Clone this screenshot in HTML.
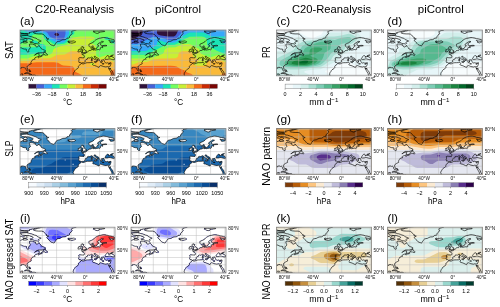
<!DOCTYPE html><html><head><meta charset="utf-8"><style>html,body{margin:0;padding:0;background:#fff;width:500px;height:307px;overflow:hidden}svg{display:block}text{font-family:"Liberation Sans",sans-serif;fill:#000}</style></head><body>
<svg width="500" height="307" viewBox="0 0 500 307" style="will-change:transform">
<defs><clipPath id="cp"><rect x="0" y="0" width="95.0" height="45.8"/></clipPath>
<path id="coast" d="M-6.3 52.3L-6.3 46.1L-0.4 46L0.3 45.5L0.6 44.4L1.2 44L2.6 43.9L3 44L2.6 45L2.4 45.9L2.1 46.8L2.1 48L5.1 48L5.7 48.6L5.9 52.3ZM-6.3 38L-2 37.9L-0.6 37.9L0.1 38.2L0.8 38.3L1.4 38.2L1.3 37.5L1.9 37.4L2.6 37.4L3.7 37.4L4.2 37.9L5 37.6L5.7 38.2L6.1 39.2L6.1 39.8L6.7 40.6L7.2 41.2L7.7 41.1L7.9 40.2L7.6 39L7.1 37.6L7 36.9L7.4 36L8.4 35.3L9.1 34.8L9.9 34.4L10.6 34.1L11.2 33.8L11.1 33L10.9 32.5L11.3 31.8L11.6 31.2L12 30.8L12.3 30.2L12.4 29.9L13.4 29.6L14.1 29.3L14.8 29.1L15.2 29.1L14.7 28.7L14.6 28.2L15 27.7L15.9 27.3L16.7 27L17.3 26.8L18 26.5L18.7 26.2L19.2 26L19 26.4L18.4 26.9L18 27.2L18.2 27.6L18.6 27.8L19.3 27.2L19.8 26.9L20.9 26.7L21.6 26.4L22.3 26L22.5 25.8L22 25.2L21.3 25.5L21.2 26.1L20.3 26.1L19.5 25.8L18.9 25.3L18.9 24.6L19.2 24.1L19.3 23.8L18.4 23.6L17.3 23.6L16.2 24.2L15.3 24.8L14.4 25.3L15.2 24.5L15.7 24.2L16.6 23.5L17.3 23.3L18 22.8L19.5 22.8L20.9 22.8L22.3 22.8L23.4 22.3L24.3 21.9L25.3 21.3L25.4 20.6L24.5 20.1L23.2 19.6L22.3 19.2L21.2 18.6L21 17.9L20.3 17.3L19.8 16.8L19.2 16L19 15.4L18.4 16.2L17.7 16.7L16.8 17L15.9 16.5L15.3 15.8L15.5 14.9L14.1 14.7L12.7 14.1L11.2 14L9.7 14L9.4 14.9L9.7 16L10 16.9L10.5 17.7L10.1 18.4L8.9 19.3L8.6 20.1L8.9 21.2L8.7 21.9L7.7 22L6.9 21.4L6.4 20.8L6.4 19.3L5.5 19.1L4.3 19.1L2.6 18.6L1.7 18L0.5 17.7L-0.9 17.8L-2.2 16.5L-6.3 16.4ZM-6.3 14.9L-2.4 15.7L-1.7 14.9L-0.9 14L0.1 13.6L0.8 12.9L2.3 12.6L2.8 12.1L3.3 11.3L4.1 10.9L5.1 11L6.2 11L6.9 10.2L7.1 9.4L6.2 8.6L5.5 8.5L4.4 8.8L4.1 9.4L3 10.2L2.3 9.6L1.6 9.2L0.5 9.4L0.1 8.7L-0.9 8.3L-0.6 7.7L-1.7 7.2L-2.7 7L-6.3 6.9ZM3.3 12.9L4.8 12.9L5.9 12.9L7.3 12.5L7.6 12.2L6.9 11.8L5.1 11.3L3.8 11.4L3 11.8L3.3 12.4ZM18.5 14.1L17.7 13.9L16.2 13.6L14.4 13.5L13.6 12.9L12.3 12.4L10.5 12.5L9.8 11.8L11.9 11.6L12.7 10.9L13.2 10.1L12.3 9.6L10.9 9.1L9.4 8.5L8 8.3L6.2 8.3L4.1 8.1L2.6 8L1.3 7.2L0.8 6.5L1.9 5.8L4.1 5.6L6.6 5.5L8 5.7L9.8 6.4L11.2 6.6L13 7.2L14.4 7.8L15.9 8.2L16.9 8.7L17.7 9.6L19.5 10.2L20.5 10.7L21.2 11L20.5 11.4L19.1 11.8L18.4 12.3L18.7 13L19.1 13.5ZM0.6 6.4L0.5 5.5L-2.7 5.4L-2.7 6.9ZM8 5L5.1 5L2.3 5L-0.6 4.8L-3.5 4.3L-1.3 3.7L0.8 3.5L4.4 3.6L7.3 3.8L8 4.3ZM8.4 3.4L9.8 3.2L9.1 2.6L10.9 2.2L12.3 1.8L13.7 1.6L15.2 1L17.3 0.6L19.1 0.1L20.9 -0.3L20.9 -0.8L15.2 -1.2L8 -1.2L-0.6 -0.1L-3.5 1L-0.6 2.1L1.6 3.2L4.4 3.6L8 3.6ZM33.9 15.8L32.7 15.4L31.6 15.1L30.6 14.6L29.6 13.6L29.1 12.7L28.2 12.1L27.7 11.4L27 10.9L26.8 10.2L27.3 9.4L28.8 8.9L27.7 8.6L26.3 8.2L27 7.7L25.9 7.2L25.3 6.5L24.8 5.8L24.1 5L23.2 4.3L21.6 3.9L18.7 3.9L16.2 3.7L14.1 3.2L13.4 2.6L14.1 2.2L15.5 1.9L17.7 1.1L19.5 0.8L20.9 0.3L23.8 -0.2L26.6 -0.6L33.1 -0.8L36.6 -1.4L42.4 -1.6L47.4 -1.4L51 -0.8L53.8 -0.3L56.3 -0.1L53.8 0.6L52 1.1L51.3 2L52 2.8L52.2 3.6L51.3 4.3L51 5L49.9 5.8L49.5 6.5L49.5 7.5L48.8 8L47 8.2L46.3 9.1L45.2 9.6L42.7 9.8L41.3 10.4L39.9 11.2L38.4 11.4L37 11.8L36.3 12.4L35.9 13.2L35.2 14L34.8 14.9L34.5 15.4ZM47.7 11.6L48.2 11.2L49.2 11L49.9 11.4L50.6 11.2L52 11.2L53.5 10.9L54.5 11L54.9 11.4L55.6 11.9L54.7 12.5L53.5 12.8L51.9 13.2L50.6 12.9L49 12.9L49.5 12.4L48.2 12.1L49.2 11.9L48.1 11.8ZM57.8 21.7L58.5 21.9L59.6 21.7L60.6 21.5L61 20.8L60.8 20.1L61.3 19.6L60.8 19.2L59.9 19.1L59.2 19.4L59.3 19.8L58.1 19.9L58.3 20.4L58.5 20.8L58.2 21.2ZM61.2 22.9L62.1 22.8L62.8 22.6L63.8 22.6L64.9 22.4L66.2 22.2L66.3 21.9L65.9 21.7L66.5 21.2L66.4 20.9L65.5 20.7L65.4 20.4L64.9 19.8L64.3 19.5L64.1 18.9L63.7 18.6L63.4 18.4L64 17.5L62.8 17.3L63 16.7L62.1 16.7L61.7 16.7L61.3 17.2L61.1 17.8L61.2 18.3L61.3 19L61.8 19.4L62.8 19.4L63 19.8L63.1 20.2L63 20.6L62.1 20.6L62.3 20.9L62.3 21.3L61.6 21.7L62.2 21.8L63 22L62.3 22.1L61.6 22.6ZM22.7 24.7L23.8 24.7L25 24.7L25.5 25.3L26.4 24.9L26.9 25.4L27.5 25L27.2 24.2L26.8 23.8L25.8 23.4L25.3 22.8L25.5 21.9L24.6 22L24.1 22.6L23.4 23.6L23 24.1ZM4.4 43.6L5.1 43.2L6.2 42.7L8 42.7L9.4 43.3L10.1 43.8L11.2 44.4L12.2 44.8L11.2 45.1L9.8 45.1L10 44.5L9.1 43.9L7.6 43.6L6.6 43.4L5.1 43.6ZM11.9 46.2L13.2 45.1L14.4 45.1L15.2 45.2L16.3 46L15.2 46.3L14.1 46.6L13.2 46.4L12 46.4ZM9.2 46.2L10.1 46.1L10.7 46.3L10.3 46.5L9.6 46.5ZM17.2 46.1L18.3 46.2L18.2 46.4L17.2 46.4ZM8.7 40L9.6 39.9L10 40.2L9.3 40.3ZM9.3 41.9L9.7 41.8L9.6 41.2L9.1 41.3ZM9.9 40.6L10.2 40.4L10.5 41.2L10.7 41.7L10.4 41.6ZM51 52.3L53 48.9L53.3 48.2L53.7 47.2L53.8 46.1L53.5 45.3L53.6 45L53.1 44.2L53.3 43.5L53.8 42.3L54.5 41.5L54.9 40.6L55.6 39.8L56.7 39.1L57.8 38.4L58.3 37.8L58.4 37.2L58.3 36.6L58.7 35.8L59.6 35L60.4 34.6L60.8 33.8L61.1 33.4L61.3 33.3L61 32.9L60.7 32.6L60.1 32.4L59 32.5L59 31.8L58.6 31.3L58.8 30.7L59 30L59 29L58.7 28.1L59.6 27.6L61 27.7L62.4 27.8L64 27.8L64.3 27.2L64.4 26.1L63.7 25.1L62.2 24.6L61.9 24.1L63.1 23.9L64.1 23.9L64 23.2L64.6 23.4L65.4 23.4L66.4 22.9L66.4 22.3L67.4 22L68 21.7L68.6 21.2L68.9 20.6L69.9 20.4L71 20.4L71.5 20.1L71.7 19.5L71.4 19L71.1 18.2L71.4 17.8L72.9 17.3L72.7 17.9L73.1 18.3L72.5 18.8L73.9 18.6L74.3 18.4L73.8 17.5L73.4 16.9L73.2 16.3L72.8 15.7L72.5 16.3L71.7 16.7L71 17.1L69.9 17.1L69.3 16.5L69.1 16L68.9 15.3L68.9 14.6L69.1 14L69.9 13.8L71 13.3L72.1 12.9L73 12.3L74 11.6L74.6 10.9L75.4 10.2L76.4 9.6L77.1 9.2L78.2 8.7L79.2 8.3L80.7 8.1L82.1 7.7L83.5 7.5L85 7.6L86.4 7.9L87.5 8.1L88.9 8.7L90.7 8.9L92.5 9.4L94.3 9.9L94.8 10.6L94.1 11.1L92.8 11.2L90.7 11L89.6 10.7L88.8 10.5L89.3 11L90.2 11.6L90 12.4L91.4 12.7L92.1 12.9L92.8 12.3L93.9 12.3L94.3 11.6L95.4 11L96.6 11.1L96.9 10.2L96.4 9.4L98.2 9.4L101.1 9.4L108.2 8.3L108.2 52.3ZM61.3 33.3L62.1 32.8L63.7 32.7L64.1 32.3L64.8 32.1L65.1 31.4L65.4 31.2L65.1 30.7L65.5 30L66 29.5L66.9 29.3L67.6 28.9L67.5 28.1L68.3 27.8L68.9 27.8L69.8 28L70.7 27.5L71.6 27.1L72.3 27.3L72.8 28.1L73.5 28.6L74.2 29.2L75.2 29.4L75.7 29.9L76.4 30.3L76.6 31.4L76.9 31.8L77.2 31.1L77.6 30.8L77.5 30L78.5 30.2L78.2 29.8L76.7 29.2L75.7 28.7L74.9 27.8L74.1 27L74.2 26.4L75.2 26.2L75.1 26.7L76 27.2L76.9 27.8L77.8 28.2L78.9 28.9L79.2 29.6L79.2 30.1L79.7 30.7L80.2 31.2L80.5 32L80.8 32.7L81.4 33L81.7 32.3L81.6 31.6L82.5 31.6L81.7 31.1L81.5 30.3L81.7 29.9L82.5 30L83.9 29.7L84 30.3L84.3 30.9L84.5 31.5L84.8 32.2L85.3 32.7L86.4 33.1L87.2 32.7L88.5 33.2L89.6 33L91 32.7L91 33.6L90.7 34.7L90.3 35.8L89.8 36.7L88.4 36.8L87.1 36.6L86 37L83.3 36.5L82.1 36L80.7 35.5L79.6 36.2L79 37.4L77.8 36.9L76.4 36.2L74.6 35.5L73.5 35.3L72.8 35L72.5 34.5L73.2 33.8L72.8 32.8L72.3 32.3L71 32.6L68.9 32.7L67.4 32.7L66 32.9L64.9 33.4L63.7 33.9L62.4 33.8L61.5 33.3ZM74.2 31.7L74.9 31.6L76.4 31.6L76.1 32.2L76.1 32.7L75.5 32.6L74.2 32.1ZM71.2 29.6L72.3 29.5L72.2 30.3L72.2 31L71.4 31.1L71.3 30.5L71.4 29.7ZM71.4 28.9L72 28.1L72.2 28.7L71.9 29.3L71.5 29.1ZM82.1 33.8L82.8 33.6L84.1 33.8L83.9 34L82.8 34ZM88.4 34L88.9 33.7L90.1 33.5L89.6 34L88.9 34.3L88.4 34.1ZM85.3 29.4L85 28.5L85.5 27.8L85.8 27.2L86.5 26.5L87.1 25.7L88 25.6L88.6 26L89.3 26.7L88.5 27L89.3 27.1L90.1 26.8L90.7 26.6L91.4 26.4L92.1 26.8L92.9 27.2L93.9 27.8L95 28.9L95.1 29.2L94.1 29.7L92.8 29.7L91.8 29.4L90.7 29.1L90 28.9L88.9 28.9L87.8 29.3L86.2 29.4ZM90.5 26.4L91.5 26.4L92.8 25.5L93.4 25L92.1 25.2L90.7 25.7ZM88.6 37.7L89.3 39L89.8 39.3L90.3 38L90.5 39.1L91.1 40L91.9 40.9L92.7 42L93.3 43.9L94.3 45.3L95.2 46.8L95.8 48.3L96.1 50.3L96.3 50.6L94.8 49.5L93.6 48.3L92.8 46.4L92 45.2L91.7 43.5L90.8 42.1L90 40.7L89.3 39.6ZM72.4 19.6L73.2 20.1L74.2 19.8L75.3 20.1L76.7 19.8L78.5 19.5L79.5 19.8L80.4 19.2L80.3 18.2L80.7 17.5L81.5 17.3L82.7 17.7L82.8 16.9L82.1 16.5L82.1 16.2L83.5 16L85.3 16L86.9 15.7L85.7 15.3L84.3 15.4L82.8 15.7L81.7 15.7L80.7 15.1L80.6 14.3L80.5 13.6L81.4 12.9L82.8 12.1L83.5 11.7L82.6 11.4L81.4 11.4L80.7 12L80.3 12.5L79.2 13.1L78.2 13.6L77.7 14.3L77.6 15.1L78.6 15.5L78.9 16L78.2 16.5L77.3 16.9L77.1 17.6L76.7 18.4L75.7 18.6L75.4 19L74.5 19L74.3 18.6L74.1 18.9L74.1 19.3L73.5 19.4L73.2 19.1L72.6 19.3ZM73.5 2.1L74.2 1.4L73.2 1.1L76.7 1L78.9 1.1L81 0.7L84.6 0.9L84.6 1.5L80.7 2L78.9 2.5L78.9 3L77.1 3.5L75.7 3L74.9 2.6L74.2 2.3Z"/>
<clipPath id="lc"><use href="#coast" clip-rule="evenodd"/></clipPath>
<path id="grid" d="M8 0V45.8M22.3 0V45.8M36.6 0V45.8M51 0V45.8M65.3 0V45.8M79.6 0V45.8M93.9 0V45.8M0 45H95.0M0 37.6H95.0M0 30.3H95.0M0 23H95.0M0 15.7H95.0M0 8.3H95.0M0 1H95.0" stroke="#b8b8b8" stroke-opacity="0.75" stroke-width="0.6" fill="none"/>
</defs>
<text x="35.1" y="13.3" font-size="10.3" textLength="79" lengthAdjust="spacingAndGlyphs">C20-Reanalysis</text>
<text x="292" y="13.3" font-size="10.3" textLength="79" lengthAdjust="spacingAndGlyphs">C20-Reanalysis</text>
<text x="155" y="13.3" font-size="10.3" textLength="46" lengthAdjust="spacingAndGlyphs">piControl</text>
<text x="417.8" y="13.3" font-size="10.3" textLength="46" lengthAdjust="spacingAndGlyphs">piControl</text>
<text transform="translate(12.7 59) rotate(-90)" x="0" y="0" font-size="10.3" textLength="17.9" lengthAdjust="spacingAndGlyphs">SAT</text>
<text transform="translate(12.7 156.8) rotate(-90)" x="0" y="0" font-size="10.3" textLength="16.3" lengthAdjust="spacingAndGlyphs">SLP</text>
<text transform="translate(12.7 299.7) rotate(-90)" x="0" y="0" font-size="10.3" textLength="80.9" lengthAdjust="spacingAndGlyphs">NAO regressed SAT</text>
<text transform="translate(269.5 58.1) rotate(-90)" x="0" y="0" font-size="10.3" textLength="11.8" lengthAdjust="spacingAndGlyphs">PR</text>
<text transform="translate(269.5 185.8) rotate(-90)" x="0" y="0" font-size="10.3" textLength="59" lengthAdjust="spacingAndGlyphs">NAO pattern</text>
<text transform="translate(269.5 299.5) rotate(-90)" x="0" y="0" font-size="10.3" textLength="75.8" lengthAdjust="spacingAndGlyphs">NAO regressed PR</text>
<g transform="translate(20 30)"><g clip-path="url(#cp)"><path d="M-1 -1h97v48h-97z" fill="#30123b" fill-rule="evenodd"/><path d="M-.9 47.2l97.7 0 0-49.1-70.3 0-1 .7-1.7 .5-5.1 .2-3.9-.2-2.4-1.2-13.7 0 0 49.1zM35.7 5.8l-1-.8-.4-.7 .8-1.1 2.3-.3 1.6 1 .1 1.1-.8 .8-1.3 .3z" fill="#4661d6" fill-rule="evenodd"/><path d="M-.9 47.2l97.7 0 0-49.1-51.2 0-.1 5.8-1.3 4.8-1.5 1.3-3.6 .1-2.8-.4-5.9-2.8-1.3-1.2-1.8-3-2.1-1.2-2.5-.4-9.7-.5-3.1-1.1-1.6-1.4-9.6 0 0 49.1z" fill="#37a8fa" fill-rule="evenodd"/><path d="M-.9 47.2l97.7 0 0-49.1-47.6 0-.3 5.8-1.9 3.2-1.8 4.1-2 1.2-5.5 .3-2.1-.4-7.2-3.7-1.4-1.4-1.6-2.9-2-1.4-2.5-.4-12.9-.2-2.9-1.3-1-1.3-.7-1.6-4.7 0 0 49.1z" fill="#1ae4b6" fill-rule="evenodd"/><path d="M-.9 47.2l97.7 0 0-32.9-2.5-.4-2.1-.8-1.2-1.1-.4-1.1 .1-.4 .7-.3 5.4 0 0-12.1-42.3 0-.2 5.5-.6 .7-3.1 1.6-1.4 1.3-1.7 4.1-.8 1.1-2.5 1.3-6.8 .9-1.8 0-2.2-.6-3.5-2.4-4.4-1.6-1.1-1.3-1.1-3.3-1.3-1-6.1-.2-2.9 .6-1.3 1.3-.2 3.7-.3 .3-4.3 .5-4.6 2.7-3.6 1 0 3.2 16.5-.2 1.7-.5 .9-.8 .9-2.2 3.6 .2 2.2 .7 1.1 1.3 .3 1.9-.1 3.6-1.4 1.5-2.4 .7-7.6 .1-7.5 1-8.2 0 0 22.4zM14.3 13.5l-1.8-1.1-.6-1.1 0-.9 2.5-.1 2.2 .5 1.5 1.2 .4 1.5-.5 .3zM86 9.8l-1.4-.7-.3-.8 .7-.9 1.4-.6 1.4 .2 1.2 .6 1.1 1.8-.1 .5-.7 .2z" fill="#71fe5f" fill-rule="evenodd"/><path d="M-.9 47.2l97.7 0 0-22.4-9.7 .1-6.4 2.2-1.5 .1-1.4-.4-1.1-.7-.5-.9-.2-7.7-.5-1.8-1.2-1.1-3.5-1.5-.8-1.1 .8-1.1 3.8-1.8 .3-.8-.7-1-2.8-.8-11.1 0-7.9 1-1.1 .4-.8 .8-.9 3.7-1.1 1.5-1.8 .9-5.5 1.2-6.4 2.2-1.4 1.4-.9 3-1.2 1.1-1.8 1-5.7 1-9 .2-7.5 2.5-8.6 .1 0 18.7z" fill="#c8ef34" fill-rule="evenodd"/><path d="M-.9 47.2l97.7 0 0-14.5-4-.9-3.9-2.5-1.8-.5-7.9 .7-7.5-.9-7.1-.4-1.5-.6-.9-.9-.8-3.3-1.5-1.5-2.5-.7-6.4 .1-2 .6-4.1 2.5-8.3 .7-4.6 2.5-2.2 .7-13.6 .3-7.8 2.4-9.7 .2 0 16zM71.9 35.5l-1.6-.8-.3-.7 .3-.7 2.1-.8 2.2 .8 .3 .7-.4 .7-1.3 .7z" fill="#faba39" fill-rule="evenodd"/><path d="M-.9 47.2l.3 0 63.5 0-.6-1.5-1.3-1.3-4.3-1.8-1.4-.9-.6-1.1-.5-2.6-1.4-1.4-2.2-.7-7.2-.3-1.7-.6-3.6-2.3-4-.5-17.5 0-8.2 1-9.7 0 0 14zM90.3 47.2l6.5 0 0-8.2-3.6 .7-2.1 1.3-.7 1.8z" fill="#f56918" fill-rule="evenodd"/><use href="#grid"/><use href="#coast" fill="none" stroke="#000" stroke-width="0.65" stroke-linejoin="round"/></g><rect x="0" y="0" width="95.0" height="45.8" fill="none" stroke="#8a8a8a" stroke-width="0.8"/><text x="8" y="51.4" font-size="4.5" textLength="11.5" lengthAdjust="spacingAndGlyphs" text-anchor="middle" style="fill:#111">80°W</text><text x="36.6" y="51.4" font-size="4.5" textLength="11.5" lengthAdjust="spacingAndGlyphs" text-anchor="middle" style="fill:#111">40°W</text><text x="65.3" y="51.4" font-size="4.5" textLength="4.7" lengthAdjust="spacingAndGlyphs" text-anchor="middle" style="fill:#111">0°</text><text x="93.9" y="51.4" font-size="4.5" textLength="10" lengthAdjust="spacingAndGlyphs" text-anchor="middle" style="fill:#111">40°E</text><text x="97.2" y="2.5" font-size="4.5" textLength="10.5" lengthAdjust="spacingAndGlyphs" style="fill:#111">80°N</text><text x="97.2" y="24.5" font-size="4.5" textLength="10.5" lengthAdjust="spacingAndGlyphs" style="fill:#111">50°N</text><text x="97.2" y="46.5" font-size="4.5" textLength="10.5" lengthAdjust="spacingAndGlyphs" style="fill:#111">20°N</text></g>
<text x="20.1" y="24.6" font-size="10.3" textLength="14.3" lengthAdjust="spacingAndGlyphs">(a)</text>
<g transform="translate(28.7 84.1)"><rect x="0" y="0" width="7.9" height="4.3" fill="#30123b"/><rect x="7.8" y="0" width="7.9" height="4.3" fill="#4661d6"/><rect x="15.5" y="0" width="7.9" height="4.3" fill="#37a8fa"/><rect x="23.3" y="0" width="7.9" height="4.3" fill="#1ae4b6"/><rect x="31" y="0" width="7.9" height="4.3" fill="#71fe5f"/><rect x="38.8" y="0" width="7.9" height="4.3" fill="#c8ef34"/><rect x="46.6" y="0" width="7.9" height="4.3" fill="#faba39"/><rect x="54.3" y="0" width="7.9" height="4.3" fill="#f56918"/><rect x="62.1" y="0" width="7.9" height="4.3" fill="#ca2a04"/><rect x="69.8" y="0" width="7.9" height="4.3" fill="#7a0403"/><rect x="0" y="0" width="77.6" height="4.3" fill="none" stroke="#666" stroke-width="0.4"/><path d="M7.8 4.3v1.3" stroke="#333" stroke-width="0.4"/><text x="7.8" y="11.9" font-size="5.4" text-anchor="middle">−36</text><path d="M23.3 4.3v1.3" stroke="#333" stroke-width="0.4"/><text x="23.3" y="11.9" font-size="5.4" text-anchor="middle">−18</text><path d="M38.8 4.3v1.3" stroke="#333" stroke-width="0.4"/><text x="38.8" y="11.9" font-size="5.4" text-anchor="middle">0</text><path d="M54.3 4.3v1.3" stroke="#333" stroke-width="0.4"/><text x="54.3" y="11.9" font-size="5.4" text-anchor="middle">18</text><path d="M69.8 4.3v1.3" stroke="#333" stroke-width="0.4"/><text x="69.8" y="11.9" font-size="5.4" text-anchor="middle">36</text><text x="38.8" y="21.1" font-size="8.8" textLength="9.2" lengthAdjust="spacingAndGlyphs" text-anchor="middle">°C</text></g>
<g transform="translate(131 30)"><g clip-path="url(#cp)"><path d="M-1 -1h97v48h-97z" fill="#30123b" fill-rule="evenodd"/><path d="M-.9 47.2l97.7 0 0-49.1-47.1 0-2.6 2.5-1.7 3.7-1.2 1.5-1.5 .6-2.8 .1-2.9-.1-7.2-1-2.5-.7-1.3-1.5-.1-5.1-14.3 0-.1 5.1-.7 1.8-1.4 1-3.5 1.3-3.3 2.2-3.9 1 0 36.7z" fill="#4661d6" fill-rule="evenodd"/><path d="M-.9 47.2l97.7 0 0-49.1-39.2 0-6.6 4.5-5.8 6.1-2.1 1.3-6.1 0-6.4-2.3-8.6-.9-1.8 .6-3.2 2.1-3.8 1.4-4.2 2.6-2.1 .3-8.2 .1 0 33.3z" fill="#37a8fa" fill-rule="evenodd"/><path d="M-.9 47.2l97.7 0 0-32.9-3.8-.8-1.2-.8-.3-.7 .3-.7 1.1-.8 3.9-.9 0-3.1-16.1-.1-2.2-.6-3.9-2.4-2.2-.8-13.6 0-1.8 .6-5.3 3-5.5 5.1-2.4 1.3-7.9 .1-2.5-.6-3.2-1.4-1.4-.1-1.5 .5-.9 .9-.8 2.9-1 1.1-9.1 4.8-2.1 .3-14.7 0 0 26.1z" fill="#1ae4b6" fill-rule="evenodd"/><path d="M-.9 47.2l97.7 0 0-23-4.3-.8-7.2-2.8-3.8-2.4-4.3-1.8-1.1-1.8-.4-5.5-.9-1.1-1.6-1-2.6-.5-12.1 .2-7.2 3.6-3.2 2.4-2.5 1.4-2.2 .6-6.8 .2-3.2 .6-17.2 9-2.5 .3-15 0 0 22.4z" fill="#71fe5f" fill-rule="evenodd"/><path d="M-.9 47.2l97.7 0 0-21.1-10-1.1-1.8 .4-4.3 1.7-2.9-.1-7.8-3.3-.8-1.1-.6-2.9-.8-1-4.4-1.9-3.4-2.2-2.6-.7-5.7 .1-7.2 3.3-6.8 .3-2.1 .6-2 1.5-.8 2.9-.9 1.1-8.2 3.3-9.3 1.4-15.7 .1 0 18.7z" fill="#c8ef34" fill-rule="evenodd"/><path d="M-.9 47.2l97.7 0 0-14.5-4-.9-4.2-2.6-2.6-.4-6.8 .9-2.1 .6-.9 1.1-.7 2.6-2.1 1.5-2.8 .3-5.7-.2-1.7-.9-.3-1.1 .9-.8 3.3-1.5 .6-.6 0-.7-.8-.8-3.1-1.2-1.3-1-1.6-4.4-1.3-.9-1.8-.5-6.8 .1-1.8 .6-1.1 .7-.6 1.1-.6 3-1 .9-1.4 .6-14.3 .3-7.5 1.1-6.8 2.3-8.3 .4-5.3 2.1-3.6 .7 0 12.1z" fill="#faba39" fill-rule="evenodd"/><path d="M-.9 47.2l.3 0 63.5 0-.8-1.8-1.5-1.3-4.4-1.7-3.1-2.1-4.1-1.6-3.3-2.1-2.3-.7-3.9-.1-30.1 .1-10.7 1.1 0 10.2zM89.3 47.2l7.5 0 0-4.6-3.2 .6-2.2 .9-1.4 1.3z" fill="#f56918" fill-rule="evenodd"/><path d="M94.3 47.2l2.5 0 0-1.8-1.8 .8-1 1z" fill="#ca2a04" fill-rule="evenodd"/><use href="#grid"/><use href="#coast" fill="none" stroke="#000" stroke-width="0.65" stroke-linejoin="round"/></g><rect x="0" y="0" width="95.0" height="45.8" fill="none" stroke="#8a8a8a" stroke-width="0.8"/><text x="8" y="51.4" font-size="4.5" textLength="11.5" lengthAdjust="spacingAndGlyphs" text-anchor="middle" style="fill:#111">80°W</text><text x="36.6" y="51.4" font-size="4.5" textLength="11.5" lengthAdjust="spacingAndGlyphs" text-anchor="middle" style="fill:#111">40°W</text><text x="65.3" y="51.4" font-size="4.5" textLength="4.7" lengthAdjust="spacingAndGlyphs" text-anchor="middle" style="fill:#111">0°</text><text x="93.9" y="51.4" font-size="4.5" textLength="10" lengthAdjust="spacingAndGlyphs" text-anchor="middle" style="fill:#111">40°E</text><text x="97.2" y="2.5" font-size="4.5" textLength="10.5" lengthAdjust="spacingAndGlyphs" style="fill:#111">80°N</text><text x="97.2" y="24.5" font-size="4.5" textLength="10.5" lengthAdjust="spacingAndGlyphs" style="fill:#111">50°N</text><text x="97.2" y="46.5" font-size="4.5" textLength="10.5" lengthAdjust="spacingAndGlyphs" style="fill:#111">20°N</text></g>
<text x="131.1" y="24.6" font-size="10.3" textLength="14.6" lengthAdjust="spacingAndGlyphs">(b)</text>
<g transform="translate(139.7 84.1)"><rect x="0" y="0" width="7.9" height="4.3" fill="#30123b"/><rect x="7.8" y="0" width="7.9" height="4.3" fill="#4661d6"/><rect x="15.5" y="0" width="7.9" height="4.3" fill="#37a8fa"/><rect x="23.3" y="0" width="7.9" height="4.3" fill="#1ae4b6"/><rect x="31" y="0" width="7.9" height="4.3" fill="#71fe5f"/><rect x="38.8" y="0" width="7.9" height="4.3" fill="#c8ef34"/><rect x="46.6" y="0" width="7.9" height="4.3" fill="#faba39"/><rect x="54.3" y="0" width="7.9" height="4.3" fill="#f56918"/><rect x="62.1" y="0" width="7.9" height="4.3" fill="#ca2a04"/><rect x="69.8" y="0" width="7.9" height="4.3" fill="#7a0403"/><rect x="0" y="0" width="77.6" height="4.3" fill="none" stroke="#666" stroke-width="0.4"/><path d="M7.8 4.3v1.3" stroke="#333" stroke-width="0.4"/><text x="7.8" y="11.9" font-size="5.4" text-anchor="middle">−36</text><path d="M23.3 4.3v1.3" stroke="#333" stroke-width="0.4"/><text x="23.3" y="11.9" font-size="5.4" text-anchor="middle">−18</text><path d="M38.8 4.3v1.3" stroke="#333" stroke-width="0.4"/><text x="38.8" y="11.9" font-size="5.4" text-anchor="middle">0</text><path d="M54.3 4.3v1.3" stroke="#333" stroke-width="0.4"/><text x="54.3" y="11.9" font-size="5.4" text-anchor="middle">18</text><path d="M69.8 4.3v1.3" stroke="#333" stroke-width="0.4"/><text x="69.8" y="11.9" font-size="5.4" text-anchor="middle">36</text><text x="38.8" y="21.1" font-size="8.8" textLength="9.2" lengthAdjust="spacingAndGlyphs" text-anchor="middle">°C</text></g>
<g transform="translate(276.4 30)"><g clip-path="url(#cp)"><path d="M-1 -1h97v48h-97z" fill="#f7fcfd" fill-rule="evenodd"/><path d="M-.9 47.2l56.6 0-.6-1.5-1.3-1.3-4.6-2.2-.4-.5 .2-.8 8-4.4 3.6-1.6 3.6-2.1 1.8-.6 7.2 .2 1.7 .8 2.8 1.9 2.3 .6 16.8 .1 0-37.7-19 0-5.4 .9-5.4-.9-17.1 0-2.5 2.2-1.7 3.3-.9 1.1-4.2 1.6-2.9 1.5-1.4 .3-1.8-.2-4.6-1.4-6.1-3.5-2.9-.5-12.9 .1-2.1 .9-3.6 2.5-3.6 .9 0 40.3z" fill="#e7f6f9" fill-rule="evenodd"/><path d="M-.9 47.2l35.1 0-.6-1.5-.9-1.1-4.6-2.2-.3-.7 .4-.4 2-.7 6.1-.9 7.9-.5 4.6-2.1 10.6-5.7 1.8-1.4 .8-2.6 1-1.1 11.9-6.2 .8-1.1 .6-2.2 .5-.8 6.4-4 1-1.5 .5-1.4 0-1.5-.5-1.5-1.7-2.2-2.2-1.2-3.6-.9-4.6-.4-7.9 1-12.5 .2-1.1 .5-2.6 2.3-1.9 1.1-6 2.2-3.5 .8-7.5-.4-2.8-.6-3.6-1.6-2.2 .3-1.3 1.1-.6 2.6-.7 1.1-5.6 3.3-.6 1.1-.4 2.2-1.5 1.5-2.9 1-8.2 .1 0 26zM86.4 31.8l1.4-.2 1.1-.5 .3-.8-.3-.7-2.1-.8-2.1 .8-.4 .7 .4 .8z" fill="#d2eeeb" fill-rule="evenodd"/><path d="M-.9 47.2l.3 0 6.2 0-.8-1.8-1.3-1.2-1.9-.9-2.9-.6 0 4.5zM-.9 39.5l22.5 0 20.8-2.5 2.5-.6 2.8-1.4 6.9-5 2.2-3.7 1.3-1.3 9.5-5.3 .9-1.1 .6-1.8 .6-.8 5.1-2.2 2.3-1.4 3.1-3 .4-1.4-1-1.3-2.2-1.3-3.2-1.3-2.1-.3-7.2 1.7-7.1 .9-6.1 .2-4.3 1.5-9 2.2-8.9 .8-3.6 .9-4.2 2.2-2.1 1.5-.7 1.1-.5 1.8-1.4 1.5-7.2 3.8-4.3 1.8-6.8 3.9 0 9.9z" fill="#aadfd3" fill-rule="evenodd"/><path d="M-.9 47.2l.3 0 1.3 0-2-1.4 0 1.4zM12.7 37.3l8.9 .3 7.9-.1 10.7-1.7 3.8-1.1 2.6-1.8 5.1-5.1 2.8-4.4 6.4-4.1 .6-1.1 .5-2.2 .9-1.1 2.7-1.2 7.2-1.3 1.8-1.9 .5-1.4-.2-.8-1.7-1.2-2.2-.2-6.8 1-5.7 2-7.2-.6-7.1 .9-10.7 2.2-3.3 1.1-4.4 2.5-2.2 3.7-1.5 1.5-13 6.5-4.3 2.6-1.3 1.5-.5 2.2 .5 1.1 .9 .7 2.9 .9z" fill="#7dccb5" fill-rule="evenodd"/><path d="M20.5 36.6l10.8-.3 7.8-1.5 3.4-1.5 3-3.3 1.5-3.3 .9-3.3 1.2-1.1 4.2-2.6 .9-1.1 .3-4-.5-1.9-1.2-.9-1.8-.4-6.1 .3-3.3 .7-6 2-6.5 3.5-1.1 1.3-1.4 2.7-1.4 1.3-4.5 2.4-8.8 3.3-2.8 2.2-1.8 2.2 .3 1.1 2.5 1.1 4.3 .7z" fill="#55b98f" fill-rule="evenodd"/><path d="M17.3 35.5l5.4 .3 7.1-.1 5-1 4-1.4 2.2-2.2 .3-1.1-.3-.8-1.5-1.1-4.2-1.4-1-.8-.3-.7 4.8-1.2 2.5-1.8 4.1-2.1 .5-.8-.1-.7-1.2-.7-1.9-.4-5 .1-1.8 .4-1.6 1-.9 1.1-.5 4.4-3.8 .6-5.2 1.9-8.7 2.6-2.4 1.5-1.6 1.8 0 .7 1.1 .9z" fill="#37a266" fill-rule="evenodd"/><path d="M20.2 34.7l7.5 .3 3.2-.4 4.5-1.7 1.3-1.1 .5-1.1-.4-.7-1.4-.8-4.5-1.3-1.8-.1-10.5 2.9-2.4 1.1-1.1 1.1 .2 .7 .7 .4z" fill="#1a843f" fill-rule="evenodd"/><path d="M24.5 33.6l5.3-.1 1.6-1 .4-1.4-1.2-1-2-.1-5.6 2.2-.8 .7 .2 .4z" fill="#00682a" fill-rule="evenodd"/><use href="#grid"/><use href="#coast" fill="none" stroke="#000" stroke-width="0.65" stroke-linejoin="round"/></g><rect x="0" y="0" width="95.0" height="45.8" fill="none" stroke="#8a8a8a" stroke-width="0.8"/><text x="8" y="51.4" font-size="4.5" textLength="11.5" lengthAdjust="spacingAndGlyphs" text-anchor="middle" style="fill:#111">80°W</text><text x="36.6" y="51.4" font-size="4.5" textLength="11.5" lengthAdjust="spacingAndGlyphs" text-anchor="middle" style="fill:#111">40°W</text><text x="65.3" y="51.4" font-size="4.5" textLength="4.7" lengthAdjust="spacingAndGlyphs" text-anchor="middle" style="fill:#111">0°</text><text x="93.9" y="51.4" font-size="4.5" textLength="10" lengthAdjust="spacingAndGlyphs" text-anchor="middle" style="fill:#111">40°E</text><text x="97.2" y="2.5" font-size="4.5" textLength="10.5" lengthAdjust="spacingAndGlyphs" style="fill:#111">80°N</text><text x="97.2" y="24.5" font-size="4.5" textLength="10.5" lengthAdjust="spacingAndGlyphs" style="fill:#111">50°N</text><text x="97.2" y="46.5" font-size="4.5" textLength="10.5" lengthAdjust="spacingAndGlyphs" style="fill:#111">20°N</text></g>
<text x="276.5" y="24.6" font-size="10.3" textLength="13.6" lengthAdjust="spacingAndGlyphs">(c)</text>
<g transform="translate(285.1 84.1)"><rect x="0" y="0" width="7.9" height="4.3" fill="#f7fcfd"/><rect x="7.8" y="0" width="7.9" height="4.3" fill="#e7f6f9"/><rect x="15.5" y="0" width="7.9" height="4.3" fill="#d2eeeb"/><rect x="23.3" y="0" width="7.9" height="4.3" fill="#aadfd3"/><rect x="31" y="0" width="7.9" height="4.3" fill="#7dccb5"/><rect x="38.8" y="0" width="7.9" height="4.3" fill="#55b98f"/><rect x="46.6" y="0" width="7.9" height="4.3" fill="#37a266"/><rect x="54.3" y="0" width="7.9" height="4.3" fill="#1a843f"/><rect x="62.1" y="0" width="7.9" height="4.3" fill="#00682a"/><rect x="69.8" y="0" width="7.9" height="4.3" fill="#00441b"/><rect x="0" y="0" width="77.6" height="4.3" fill="none" stroke="#666" stroke-width="0.4"/><path d="M0 4.3v1.3" stroke="#333" stroke-width="0.4"/><text x="0" y="11.9" font-size="5.4" text-anchor="middle">0</text><path d="M15.5 4.3v1.3" stroke="#333" stroke-width="0.4"/><text x="15.5" y="11.9" font-size="5.4" text-anchor="middle">2</text><path d="M31 4.3v1.3" stroke="#333" stroke-width="0.4"/><text x="31" y="11.9" font-size="5.4" text-anchor="middle">4</text><path d="M46.6 4.3v1.3" stroke="#333" stroke-width="0.4"/><text x="46.6" y="11.9" font-size="5.4" text-anchor="middle">6</text><path d="M62.1 4.3v1.3" stroke="#333" stroke-width="0.4"/><text x="62.1" y="11.9" font-size="5.4" text-anchor="middle">8</text><path d="M77.6 4.3v1.3" stroke="#333" stroke-width="0.4"/><text x="77.6" y="11.9" font-size="5.4" text-anchor="middle">10</text><text x="38.8" y="21.1" font-size="8.8" text-anchor="middle">mm d<tspan font-size="6.2" dy="-3.4">−1</tspan></text></g>
<g transform="translate(387.5 30)"><g clip-path="url(#cp)"><path d="M-1 -1h97v48h-97z" fill="#f7fcfd" fill-rule="evenodd"/><path d="M-.9 47.2l55.4 0 .1-7.4 .4-1.4 2.4-1.9 7.5-4 2.5-.3 29.4 0 0-34.1-49.4 0-.1 5.1-.8 1.5-3.2 1.8-7 1.8-7.2 .2-2.1-.3-5-1.6-10.4-.1-1.1-2.6-1.1-.8-1.4-.3-1.4 .3-1.1 .8-1.1 2.6-5.7 0 0 40.7zM7.4 9.8l-2-1.1-.6-1.1 0-1.1 6.4 0-.1 1.5-.8 1.1-1.6 .7z" fill="#e7f6f9" fill-rule="evenodd"/><path d="M-.9 47.2l18.5 0 .8-1.8 1.2-1.2 4.9-1.8 4.6-2.5 2.2-.3 12.9-.2 8.6-3.3 2.5-1.4 6.5-4.7 2.1-3.3 1.4-1.5 10.4-5.5 1-1.3 1.9-3.5 4.1-2.9 .4-1.5-.2-1.8-1.4-1.5-8.3-4.4-2.2-.3-11.4 0-2.9 .6-3.8 2.7-7 2.5-7 1.1-10.5 .9-2.9 .7-2.8 2.3-5 3.1-5 2.2-.8 1.1-.6 2.6-1.5 1.4-4.3 2-6.8 4 0 1.7 .7 1.9-.7 1.3 0 12.6zM6.7 42.4l-.3-.7 .9-.6 1.4 0 .9 .6-.2 .6-.7 .3z" fill="#d2eeeb" fill-rule="evenodd"/><path d="M-.9 40l3.5-.9 4.3-.4 9 .8 5.7 0 7.9-1.8 14.3-1 7.2-2 2.8-1.8 11.1-11.2 8.3-5 1-1.4 1.6-3.7 .2-1.4-.3-1.1-1.4-1.5-1.9-.9-6.4-.1-1.8 .3-3.2 1.5-2.2 .5-7.5 .3-16.1 1.6-6.1 1.1-1.5 1.2-2.5 3.7-1.3 2.7-1.1 1.1-19.6 10.5-.8 1.1-1.4 3.6-2.2 1.2 0 3.1z" fill="#aadfd3" fill-rule="evenodd"/><path d="M10.1 37.3l12.6 .2 19-2.3 5.9-1.6 2.6-1.2 1.8-1.4 12.2-12.7 2.6-1.9 .6-1.1-1.2-1.1-5.6-2.4-2.5-.5-7.9-.1-12.5 .7-2.6 .5-1.7 1-1.2 2.3-3.4 2.5-2.2 3.7-1.4 1.3-4.5 2.4-7 2.5-7.1 3.2-2.2 1.6-.4 1.8 .8 1.4 1.8 .7z" fill="#7dccb5" fill-rule="evenodd"/><path d="M14.4 36.6l7.9 0 8.6-1 7.9-1.6 3.3-1.1 9.2-5.1 1.1-1.1 2.1-3.7 4.3-2.9 .2-1.5-.9-.9-6.4-3.6-6.5-.2-2.8 .5-8.1 4.6-.9 1.1-.8 2.9-1.3 1.1-6.1 2.6-11.1 3.1-6.1 2.4-1.7 1.4 .1 1.1 1.2 .9z" fill="#55b98f" fill-rule="evenodd"/><path d="M13 35.5l9 .3 8.6-1.1 4.1-1.4 3.5-2.2 .6-1.1-.7-.9-1.8-.5-6.8 0-7.2 .9-6.8 1.4-4.7 1.6-1.8 1.1 .2 .8 .6 .3z" fill="#37a266" fill-rule="evenodd"/><path d="M14.8 34.7l8.9 0 4-.7 1.2-.4 .7-.7-.8-.7-1.5-.4-3.5-.4-2.6 .1-6 .8-1.5 .6-.9 .7 .7 .8z" fill="#1a843f" fill-rule="evenodd"/><use href="#grid"/><use href="#coast" fill="none" stroke="#000" stroke-width="0.65" stroke-linejoin="round"/></g><rect x="0" y="0" width="95.0" height="45.8" fill="none" stroke="#8a8a8a" stroke-width="0.8"/><text x="8" y="51.4" font-size="4.5" textLength="11.5" lengthAdjust="spacingAndGlyphs" text-anchor="middle" style="fill:#111">80°W</text><text x="36.6" y="51.4" font-size="4.5" textLength="11.5" lengthAdjust="spacingAndGlyphs" text-anchor="middle" style="fill:#111">40°W</text><text x="65.3" y="51.4" font-size="4.5" textLength="4.7" lengthAdjust="spacingAndGlyphs" text-anchor="middle" style="fill:#111">0°</text><text x="93.9" y="51.4" font-size="4.5" textLength="10" lengthAdjust="spacingAndGlyphs" text-anchor="middle" style="fill:#111">40°E</text><text x="97.2" y="2.5" font-size="4.5" textLength="10.5" lengthAdjust="spacingAndGlyphs" style="fill:#111">80°N</text><text x="97.2" y="24.5" font-size="4.5" textLength="10.5" lengthAdjust="spacingAndGlyphs" style="fill:#111">50°N</text><text x="97.2" y="46.5" font-size="4.5" textLength="10.5" lengthAdjust="spacingAndGlyphs" style="fill:#111">20°N</text></g>
<text x="387.6" y="24.6" font-size="10.3" textLength="14.6" lengthAdjust="spacingAndGlyphs">(d)</text>
<g transform="translate(396.2 84.1)"><rect x="0" y="0" width="7.9" height="4.3" fill="#f7fcfd"/><rect x="7.8" y="0" width="7.9" height="4.3" fill="#e7f6f9"/><rect x="15.5" y="0" width="7.9" height="4.3" fill="#d2eeeb"/><rect x="23.3" y="0" width="7.9" height="4.3" fill="#aadfd3"/><rect x="31" y="0" width="7.9" height="4.3" fill="#7dccb5"/><rect x="38.8" y="0" width="7.9" height="4.3" fill="#55b98f"/><rect x="46.6" y="0" width="7.9" height="4.3" fill="#37a266"/><rect x="54.3" y="0" width="7.9" height="4.3" fill="#1a843f"/><rect x="62.1" y="0" width="7.9" height="4.3" fill="#00682a"/><rect x="69.8" y="0" width="7.9" height="4.3" fill="#00441b"/><rect x="0" y="0" width="77.6" height="4.3" fill="none" stroke="#666" stroke-width="0.4"/><path d="M0 4.3v1.3" stroke="#333" stroke-width="0.4"/><text x="0" y="11.9" font-size="5.4" text-anchor="middle">0</text><path d="M15.5 4.3v1.3" stroke="#333" stroke-width="0.4"/><text x="15.5" y="11.9" font-size="5.4" text-anchor="middle">2</text><path d="M31 4.3v1.3" stroke="#333" stroke-width="0.4"/><text x="31" y="11.9" font-size="5.4" text-anchor="middle">4</text><path d="M46.6 4.3v1.3" stroke="#333" stroke-width="0.4"/><text x="46.6" y="11.9" font-size="5.4" text-anchor="middle">6</text><path d="M62.1 4.3v1.3" stroke="#333" stroke-width="0.4"/><text x="62.1" y="11.9" font-size="5.4" text-anchor="middle">8</text><path d="M77.6 4.3v1.3" stroke="#333" stroke-width="0.4"/><text x="77.6" y="11.9" font-size="5.4" text-anchor="middle">10</text><text x="38.8" y="21.1" font-size="8.8" text-anchor="middle">mm d<tspan font-size="6.2" dy="-3.4">−1</tspan></text></g>
<g transform="translate(20 128.6)"><g clip-path="url(#cp)"><path d="M-1 -1h97v48h-97z" fill="#f7fbff" fill-rule="evenodd"/><path d="M-.9 47.2l97.7 0 0-49.1-98.1 0 0 49.1z" fill="#e1edf8" fill-rule="evenodd"/><path d="M-.9 47.2l97.7 0 0-49.1-98.1 0 0 49.1z" fill="#ccdff1" fill-rule="evenodd"/><path d="M-.9 47.2l97.7 0 0-49.1-98.1 0 0 49.1z" fill="#abd0e6" fill-rule="evenodd"/><path d="M-.9 47.2l97.7 0 0-49.1-98.1 0 0 49.1z" fill="#82bbdb" fill-rule="evenodd"/><path d="M-.9 47.2l97.7 0 0-49.1-98.1 0 0 49.1z" fill="#58a1cf" fill-rule="evenodd"/><path d="M-.9 47.2l97.7 0 0-44.7-13.3-.1-.3-.3 0-4-84.5 0 0 49.1zM35.8 13.5l-1.3-.8-.3-.7 .6-1 1.5-.6 8.6-.2 2.2 .3-.7 1.9-1.9 1.1-5.7 .3zM47.7 9.8l.6-1.8 2.3-1.3 8.6-.2 2.2 .4-.6 1.8-2.3 1.2-8.6 .2zM62 6.1l.1-1.1 .7-1.1 1-.8 1.8-.5 16.1-.1 1.3 .3-.7 2.2-1 .8-1.7 .5-15.4 .2z" fill="#3787c0" fill-rule="evenodd"/><path d="M-.9 47.2l97.7 0 0-26-73.4 0-2.5 .5-3.6 2.3-2.1 .7-16.5 .1 0 22.4z" fill="#1b69af" fill-rule="evenodd"/><path d="M11.9 47.2l34.3 0 .8-1.8 1.5-1.3 4.4-1.7 3.1-2.1 3.6-1.3 1.3-1 .8-1.8 0-7.3-1.4-.4-14.4 0-3.5 .5-3.8 2.4-4.1 1.6-3.1 2.1-4.1 1.6-3.5 2.3-2.2 .4-6.1 .2-2.2 .6-1.2 1.1-.4 1.1-.1 4.8zM62.1 28.3l1.7 .1 2.3-.3 1.3-.7 .3-1.1-1.7-1.1-1.8 .1-1.8 1.4z" fill="#084d96" fill-rule="evenodd"/><use href="#coast" fill="#fff" fill-rule="evenodd"/><rect x="44.7" y="30.9" width="1" height="1" fill="#ccd"/><rect x="52.6" y="35.2" width="1" height="1" fill="#fff"/><use href="#grid"/><use href="#coast" fill="none" stroke="#000" stroke-width="0.65" stroke-linejoin="round"/></g><rect x="0" y="0" width="95.0" height="45.8" fill="none" stroke="#8a8a8a" stroke-width="0.8"/><text x="8" y="51.4" font-size="4.5" textLength="11.5" lengthAdjust="spacingAndGlyphs" text-anchor="middle" style="fill:#111">80°W</text><text x="36.6" y="51.4" font-size="4.5" textLength="11.5" lengthAdjust="spacingAndGlyphs" text-anchor="middle" style="fill:#111">40°W</text><text x="65.3" y="51.4" font-size="4.5" textLength="4.7" lengthAdjust="spacingAndGlyphs" text-anchor="middle" style="fill:#111">0°</text><text x="93.9" y="51.4" font-size="4.5" textLength="10" lengthAdjust="spacingAndGlyphs" text-anchor="middle" style="fill:#111">40°E</text><text x="97.2" y="2.5" font-size="4.5" textLength="10.5" lengthAdjust="spacingAndGlyphs" style="fill:#111">80°N</text><text x="97.2" y="24.5" font-size="4.5" textLength="10.5" lengthAdjust="spacingAndGlyphs" style="fill:#111">50°N</text><text x="97.2" y="46.5" font-size="4.5" textLength="10.5" lengthAdjust="spacingAndGlyphs" style="fill:#111">20°N</text></g>
<text x="20.1" y="123.2" font-size="10.3" textLength="14.3" lengthAdjust="spacingAndGlyphs">(e)</text>
<g transform="translate(28.7 182.7)"><rect x="0" y="0" width="7.9" height="4.3" fill="#f7fbff"/><rect x="7.8" y="0" width="7.9" height="4.3" fill="#e1edf8"/><rect x="15.5" y="0" width="7.9" height="4.3" fill="#ccdff1"/><rect x="23.3" y="0" width="7.9" height="4.3" fill="#abd0e6"/><rect x="31" y="0" width="7.9" height="4.3" fill="#82bbdb"/><rect x="38.8" y="0" width="7.9" height="4.3" fill="#58a1cf"/><rect x="46.6" y="0" width="7.9" height="4.3" fill="#3787c0"/><rect x="54.3" y="0" width="7.9" height="4.3" fill="#1b69af"/><rect x="62.1" y="0" width="7.9" height="4.3" fill="#084d96"/><rect x="69.8" y="0" width="7.9" height="4.3" fill="#08306b"/><rect x="0" y="0" width="77.6" height="4.3" fill="none" stroke="#666" stroke-width="0.4"/><path d="M0 4.3v1.3" stroke="#333" stroke-width="0.4"/><text x="0" y="11.9" font-size="5.4" text-anchor="middle">900</text><path d="M15.5 4.3v1.3" stroke="#333" stroke-width="0.4"/><text x="15.5" y="11.9" font-size="5.4" text-anchor="middle">930</text><path d="M31 4.3v1.3" stroke="#333" stroke-width="0.4"/><text x="31" y="11.9" font-size="5.4" text-anchor="middle">960</text><path d="M46.6 4.3v1.3" stroke="#333" stroke-width="0.4"/><text x="46.6" y="11.9" font-size="5.4" text-anchor="middle">990</text><path d="M62.1 4.3v1.3" stroke="#333" stroke-width="0.4"/><text x="62.1" y="11.9" font-size="5.4" text-anchor="middle">1020</text><path d="M77.6 4.3v1.3" stroke="#333" stroke-width="0.4"/><text x="77.6" y="11.9" font-size="5.4" text-anchor="middle">1050</text><text x="38.8" y="21.1" font-size="8.8" textLength="14.2" lengthAdjust="spacingAndGlyphs" text-anchor="middle">hPa</text></g>
<g transform="translate(131 128.6)"><g clip-path="url(#cp)"><path d="M-1 -1h97v48h-97z" fill="#f7fbff" fill-rule="evenodd"/><path d="M-.9 47.2l97.7 0 0-49.1-98.1 0 0 49.1z" fill="#e1edf8" fill-rule="evenodd"/><path d="M-.9 47.2l97.7 0 0-49.1-98.1 0 0 49.1z" fill="#ccdff1" fill-rule="evenodd"/><path d="M-.9 47.2l97.7 0 0-49.1-98.1 0 0 49.1z" fill="#abd0e6" fill-rule="evenodd"/><path d="M-.9 47.2l97.7 0 0-49.1-98.1 0 0 49.1z" fill="#82bbdb" fill-rule="evenodd"/><path d="M-.9 47.2l97.7 0 0-49.1-98.1 0 0 49.1z" fill="#58a1cf" fill-rule="evenodd"/><path d="M-.9 47.2l97.7 0 0-41.2-4.3 1-3.2 2.1-1.8 .8-7.2 .2-2.6-.7-3.3-2.2-4.1-1.6-3.3-2.4-3.9-1.7-1.7-1.6-.7-1.8-62 0 0 49.1z" fill="#3787c0" fill-rule="evenodd"/><path d="M-.9 47.2l97.7 0 0-33.4-10.4 .2-1.8 .7-3.2 2.1-2.5 .6-41.9 .2-2.2 .6-3.2 2.1-1.8 .7-14.3 .2-2.1 .6-3.3 2.2-1.7 .6-9.7 .2 0 22.4z" fill="#1b69af" fill-rule="evenodd"/><path d="M19.8 46.8l.1 .4 26.3 0 .8-1.8 1.5-1.3 4.4-1.7 3.1-2.1 3.6-1.3 1.3-1 .8-2.2-.3-5.1-1.1-1.3-1.8-.7-7.5-.1-2 .6-2.7 1.9-1.8 .8-8.2 .4-1.6 .6-2.7 1.9-1.8 .7-7.2 .4-2.1 .4-3.8 2.4-3.6 1.5-.8 1.1 .8 1.1 4.5 2 1.1 1z" fill="#084d96" fill-rule="evenodd"/><use href="#coast" fill="#fff" fill-rule="evenodd"/><rect x="44.7" y="30.9" width="1" height="1" fill="#ccd"/><rect x="52.6" y="35.2" width="1" height="1" fill="#fff"/><use href="#grid"/><use href="#coast" fill="none" stroke="#000" stroke-width="0.65" stroke-linejoin="round"/></g><rect x="0" y="0" width="95.0" height="45.8" fill="none" stroke="#8a8a8a" stroke-width="0.8"/><text x="8" y="51.4" font-size="4.5" textLength="11.5" lengthAdjust="spacingAndGlyphs" text-anchor="middle" style="fill:#111">80°W</text><text x="36.6" y="51.4" font-size="4.5" textLength="11.5" lengthAdjust="spacingAndGlyphs" text-anchor="middle" style="fill:#111">40°W</text><text x="65.3" y="51.4" font-size="4.5" textLength="4.7" lengthAdjust="spacingAndGlyphs" text-anchor="middle" style="fill:#111">0°</text><text x="93.9" y="51.4" font-size="4.5" textLength="10" lengthAdjust="spacingAndGlyphs" text-anchor="middle" style="fill:#111">40°E</text><text x="97.2" y="2.5" font-size="4.5" textLength="10.5" lengthAdjust="spacingAndGlyphs" style="fill:#111">80°N</text><text x="97.2" y="24.5" font-size="4.5" textLength="10.5" lengthAdjust="spacingAndGlyphs" style="fill:#111">50°N</text><text x="97.2" y="46.5" font-size="4.5" textLength="10.5" lengthAdjust="spacingAndGlyphs" style="fill:#111">20°N</text></g>
<text x="131.1" y="123.2" font-size="10.3" textLength="11.3" lengthAdjust="spacingAndGlyphs">(f)</text>
<g transform="translate(139.7 182.7)"><rect x="0" y="0" width="7.9" height="4.3" fill="#f7fbff"/><rect x="7.8" y="0" width="7.9" height="4.3" fill="#e1edf8"/><rect x="15.5" y="0" width="7.9" height="4.3" fill="#ccdff1"/><rect x="23.3" y="0" width="7.9" height="4.3" fill="#abd0e6"/><rect x="31" y="0" width="7.9" height="4.3" fill="#82bbdb"/><rect x="38.8" y="0" width="7.9" height="4.3" fill="#58a1cf"/><rect x="46.6" y="0" width="7.9" height="4.3" fill="#3787c0"/><rect x="54.3" y="0" width="7.9" height="4.3" fill="#1b69af"/><rect x="62.1" y="0" width="7.9" height="4.3" fill="#084d96"/><rect x="69.8" y="0" width="7.9" height="4.3" fill="#08306b"/><rect x="0" y="0" width="77.6" height="4.3" fill="none" stroke="#666" stroke-width="0.4"/><path d="M0 4.3v1.3" stroke="#333" stroke-width="0.4"/><text x="0" y="11.9" font-size="5.4" text-anchor="middle">900</text><path d="M15.5 4.3v1.3" stroke="#333" stroke-width="0.4"/><text x="15.5" y="11.9" font-size="5.4" text-anchor="middle">930</text><path d="M31 4.3v1.3" stroke="#333" stroke-width="0.4"/><text x="31" y="11.9" font-size="5.4" text-anchor="middle">960</text><path d="M46.6 4.3v1.3" stroke="#333" stroke-width="0.4"/><text x="46.6" y="11.9" font-size="5.4" text-anchor="middle">990</text><path d="M62.1 4.3v1.3" stroke="#333" stroke-width="0.4"/><text x="62.1" y="11.9" font-size="5.4" text-anchor="middle">1020</text><path d="M77.6 4.3v1.3" stroke="#333" stroke-width="0.4"/><text x="77.6" y="11.9" font-size="5.4" text-anchor="middle">1050</text><text x="38.8" y="21.1" font-size="8.8" textLength="14.2" lengthAdjust="spacingAndGlyphs" text-anchor="middle">hPa</text></g>
<g transform="translate(276.4 128.6)"><g clip-path="url(#cp)"><path d="M-1 -1h97v48h-97z" fill="#7f3b08" fill-rule="evenodd"/><path d="M-.9 47.2l97.7 0 0-49.1-98.1 0 0 49.1zM57.8 13.5l-4.7-2.6-3.8-1.5-.7-.7 0-.7 .9-.9 4-1.7 2.9-2.2 2.8-.7 26.8 0 2.9 1 .8 .8 .5 1.1 0 1.8-.3 1.1-1 .9-1.4 .7-8.3 .4-6 2.2-7.9 1.2-5.4 .1z" fill="#b75c07" fill-rule="evenodd"/><path d="M-.9 47.2l97.7 0 0-33.4-16.5 0-14.7 2.2-5 .1-4.3-.4-6.1-1.8-13.6-.2-2.4-1-1-1.4-.1-13.2-34.4 0 0 49.1z" fill="#e68d23" fill-rule="evenodd"/><path d="M-.9 47.2l97.7 0 0-30.7-22.9 .1-7.9 .8-5.7 .1-10.4-1-19.7-.1-2.5-.5-6.8-2.6-3.6-2.3-1.8-.6-16.8-.2 0 37z" fill="#fdc57f" fill-rule="evenodd"/><path d="M-.9 47.2l97.7 0 0-28.7-38 .3-8.9-.4-20.1 .1-8.9-1-22.2 0 0 29.7z" fill="#fbead2" fill-rule="evenodd"/><path d="M-.9 47.2l97.7 0 0-26-22.9 0-8.6-.9-16.5-.1-6.1 .1-7.5 .9-36.5 0 0 26z" fill="#e5e7f0" fill-rule="evenodd"/><path d="M38.4 39.5l19.4-.1 2.2-.7 2.8-1.8 1.8-.8 8.6-.6 1.7-.7 2.8-1.9 4.3-1.8 1-1.5 0-2.2-1-1.5-2-.9-8.3-1.3-6.1-1.4-20.7-.2-2.5 .3-5.8 1.4-7.1 .9-7.9 .4-1.8 .8-2.7 1.9-3.4 1.3-.9 .9 0 .7 .7 .7 3.6 1.5 3.8 2.4 2.1 .5 6.8 .2 1.8 .7 3.6 2.3z" fill="#bfbbda" fill-rule="evenodd"/><path d="M43.1 35.5l2.1-.1 5-2 8.3-1.4 6.1-3.3 7.8-.4 1.4-.5 .3-.8-1.7-.9-7.5-1.1-6.1-.2-7.5-.8-5.7-.1-2.9 .3-5 1.4-2.9 .9-1.2 .9-.4 1.8 1 1.9 7.1 3.8z" fill="#8a7eb3" fill-rule="evenodd"/><path d="M43.8 31.8l8.6-1.2 1.6-1 .4-.7-.1-1.1-1.2-1.1-2.5-.7-5.7-.1-2.2 .4-1.8 1.1-.5 .7 0 1.1 1.1 1.5z" fill="#582e8c" fill-rule="evenodd"/><use href="#grid"/><use href="#coast" fill="none" stroke="#000" stroke-width="0.65" stroke-linejoin="round"/></g><rect x="0" y="0" width="95.0" height="45.8" fill="none" stroke="#8a8a8a" stroke-width="0.8"/><text x="8" y="51.4" font-size="4.5" textLength="11.5" lengthAdjust="spacingAndGlyphs" text-anchor="middle" style="fill:#111">80°W</text><text x="36.6" y="51.4" font-size="4.5" textLength="11.5" lengthAdjust="spacingAndGlyphs" text-anchor="middle" style="fill:#111">40°W</text><text x="65.3" y="51.4" font-size="4.5" textLength="4.7" lengthAdjust="spacingAndGlyphs" text-anchor="middle" style="fill:#111">0°</text><text x="93.9" y="51.4" font-size="4.5" textLength="10" lengthAdjust="spacingAndGlyphs" text-anchor="middle" style="fill:#111">40°E</text><text x="97.2" y="2.5" font-size="4.5" textLength="10.5" lengthAdjust="spacingAndGlyphs" style="fill:#111">80°N</text><text x="97.2" y="24.5" font-size="4.5" textLength="10.5" lengthAdjust="spacingAndGlyphs" style="fill:#111">50°N</text><text x="97.2" y="46.5" font-size="4.5" textLength="10.5" lengthAdjust="spacingAndGlyphs" style="fill:#111">20°N</text></g>
<text x="276.5" y="123.2" font-size="10.3" textLength="14.6" lengthAdjust="spacingAndGlyphs">(g)</text>
<g transform="translate(285.1 182.7)"><rect x="0" y="0" width="7.9" height="4.3" fill="#7f3b08"/><rect x="7.8" y="0" width="7.9" height="4.3" fill="#b75c07"/><rect x="15.5" y="0" width="7.9" height="4.3" fill="#e68d23"/><rect x="23.3" y="0" width="7.9" height="4.3" fill="#fdc57f"/><rect x="31" y="0" width="7.9" height="4.3" fill="#fbead2"/><rect x="38.8" y="0" width="7.9" height="4.3" fill="#e5e7f0"/><rect x="46.6" y="0" width="7.9" height="4.3" fill="#bfbbda"/><rect x="54.3" y="0" width="7.9" height="4.3" fill="#8a7eb3"/><rect x="62.1" y="0" width="7.9" height="4.3" fill="#582e8c"/><rect x="69.8" y="0" width="7.9" height="4.3" fill="#2d004b"/><rect x="0" y="0" width="77.6" height="4.3" fill="none" stroke="#666" stroke-width="0.4"/><path d="M7.8 4.3v1.3" stroke="#333" stroke-width="0.4"/><text x="7.8" y="11.9" font-size="5.4" text-anchor="middle">−4</text><path d="M23.3 4.3v1.3" stroke="#333" stroke-width="0.4"/><text x="23.3" y="11.9" font-size="5.4" text-anchor="middle">−2</text><path d="M38.8 4.3v1.3" stroke="#333" stroke-width="0.4"/><text x="38.8" y="11.9" font-size="5.4" text-anchor="middle">0</text><path d="M54.3 4.3v1.3" stroke="#333" stroke-width="0.4"/><text x="54.3" y="11.9" font-size="5.4" text-anchor="middle">2</text><path d="M69.8 4.3v1.3" stroke="#333" stroke-width="0.4"/><text x="69.8" y="11.9" font-size="5.4" text-anchor="middle">4</text><text x="38.8" y="21.1" font-size="8.8" textLength="14.2" lengthAdjust="spacingAndGlyphs" text-anchor="middle">hPa</text></g>
<g transform="translate(387.5 128.6)"><g clip-path="url(#cp)"><path d="M-1 -1h97v48h-97z" fill="#7f3b08" fill-rule="evenodd"/><path d="M-.9 47.2l97.7 0 0-49.1-98.1 0 0 49.1zM35.5 12.4l-1.6-.8-.7-1.1-.1-4.7 .4-1.1 .9-1.1 2.6-1 48.3-.1 2.5 .5 1.5 1.3-.1 .7-.8 .8-2.4 .6-27.9 .2-1.9 .6-2.7 1.9-1.8 .8-7.9 .4-5.9 2.1z" fill="#b75c07" fill-rule="evenodd"/><path d="M-.9 47.2l97.7 0 0-37.1-23.6 .1-2.6 .6-4.1 2.3-1.9 .6-19.4 .1-7.5 .9-4.3-.2-4.5-1-4.4-2.6-4-1.5-1.5-1.4-.2-2.2 .7-1.6 1.1-1 4.6-2.2 1.1-1.3 .6-1.6-28.2 0 0 49.1z" fill="#e68d23" fill-rule="evenodd"/><path d="M-.9 47.2l97.7 0 0-33.4-23.3 .1-8.2 2.5-14.3 .1-7.9 .9-5.4 .1-9.3-1.3-6.8-2.3-14-.3-1.7-.6-3.6-2.3-3.6-.9 0 37.4z" fill="#fdc57f" fill-rule="evenodd"/><path d="M-.9 47.2l97.7 0 0-29.7-22.9 0-8.6 .9-13.6 0-7.9 1.7-3.9 .1-3.6-.2-6.4-1.4-8.3-1.1-22.9 0 0 29.7z" fill="#fbead2" fill-rule="evenodd"/><path d="M-.9 47.2l97.7 0 0-26-9-.1-6.8-.8-4.6-.1-24.7 .1-7.2 1.5-2.5 .3-6.4-.1-7.6-.8-29.3 0 0 26z" fill="#e5e7f0" fill-rule="evenodd"/><path d="M33.8 39.5l23.6-.1 2.5-.6 3.2-2.1 2.2-.7 14.7-.3 2.1-.8 7.1-3.8 1-1.5 0-2.2-.6-1.1-1.4-1-5.4-2.3-2.8-.7-28-.2-8.6 1.7-7.5 .2-7.1 .8-6.8 .2-1.8 .7-3.2 2.1-3.3 1.3-.9 .9 0 .7 .7 .7 3.6 1.5 3.4 2.3 3.8 1.4 3.4 2.2 2.1 .6z" fill="#bfbbda" fill-rule="evenodd"/><path d="M43.1 35.5l2.1-.2 3.8-2.4 2.3-.7 27.9-.2 1.6-.6 1.5-1.1 .7-1.1 .1-1.1-1.2-1.8-1.6-1-1.4-.4-19.7-.1-7.2-.8-2.1 .2-6.5 1.6-7.1 .3-1.8 .6-.9 .7-.4 1.8 1 1.9 4.4 1.8 2.7 1.9z" fill="#8a7eb3" fill-rule="evenodd"/><path d="M49.9 27.8l1.8 .2 .7-.4 .2-.6-.9-.5-1.5 .1-.7 .4z" fill="#582e8c" fill-rule="evenodd"/><use href="#grid"/><use href="#coast" fill="none" stroke="#000" stroke-width="0.65" stroke-linejoin="round"/></g><rect x="0" y="0" width="95.0" height="45.8" fill="none" stroke="#8a8a8a" stroke-width="0.8"/><text x="8" y="51.4" font-size="4.5" textLength="11.5" lengthAdjust="spacingAndGlyphs" text-anchor="middle" style="fill:#111">80°W</text><text x="36.6" y="51.4" font-size="4.5" textLength="11.5" lengthAdjust="spacingAndGlyphs" text-anchor="middle" style="fill:#111">40°W</text><text x="65.3" y="51.4" font-size="4.5" textLength="4.7" lengthAdjust="spacingAndGlyphs" text-anchor="middle" style="fill:#111">0°</text><text x="93.9" y="51.4" font-size="4.5" textLength="10" lengthAdjust="spacingAndGlyphs" text-anchor="middle" style="fill:#111">40°E</text><text x="97.2" y="2.5" font-size="4.5" textLength="10.5" lengthAdjust="spacingAndGlyphs" style="fill:#111">80°N</text><text x="97.2" y="24.5" font-size="4.5" textLength="10.5" lengthAdjust="spacingAndGlyphs" style="fill:#111">50°N</text><text x="97.2" y="46.5" font-size="4.5" textLength="10.5" lengthAdjust="spacingAndGlyphs" style="fill:#111">20°N</text></g>
<text x="387.6" y="123.2" font-size="10.3" textLength="14.6" lengthAdjust="spacingAndGlyphs">(h)</text>
<g transform="translate(396.2 182.7)"><rect x="0" y="0" width="7.9" height="4.3" fill="#7f3b08"/><rect x="7.8" y="0" width="7.9" height="4.3" fill="#b75c07"/><rect x="15.5" y="0" width="7.9" height="4.3" fill="#e68d23"/><rect x="23.3" y="0" width="7.9" height="4.3" fill="#fdc57f"/><rect x="31" y="0" width="7.9" height="4.3" fill="#fbead2"/><rect x="38.8" y="0" width="7.9" height="4.3" fill="#e5e7f0"/><rect x="46.6" y="0" width="7.9" height="4.3" fill="#bfbbda"/><rect x="54.3" y="0" width="7.9" height="4.3" fill="#8a7eb3"/><rect x="62.1" y="0" width="7.9" height="4.3" fill="#582e8c"/><rect x="69.8" y="0" width="7.9" height="4.3" fill="#2d004b"/><rect x="0" y="0" width="77.6" height="4.3" fill="none" stroke="#666" stroke-width="0.4"/><path d="M7.8 4.3v1.3" stroke="#333" stroke-width="0.4"/><text x="7.8" y="11.9" font-size="5.4" text-anchor="middle">−4</text><path d="M23.3 4.3v1.3" stroke="#333" stroke-width="0.4"/><text x="23.3" y="11.9" font-size="5.4" text-anchor="middle">−2</text><path d="M38.8 4.3v1.3" stroke="#333" stroke-width="0.4"/><text x="38.8" y="11.9" font-size="5.4" text-anchor="middle">0</text><path d="M54.3 4.3v1.3" stroke="#333" stroke-width="0.4"/><text x="54.3" y="11.9" font-size="5.4" text-anchor="middle">2</text><path d="M69.8 4.3v1.3" stroke="#333" stroke-width="0.4"/><text x="69.8" y="11.9" font-size="5.4" text-anchor="middle">4</text><text x="38.8" y="21.1" font-size="8.8" textLength="14.2" lengthAdjust="spacingAndGlyphs" text-anchor="middle">hPa</text></g>
<g transform="translate(20 227.2)"><g clip-path="url(#cp)"><rect x="-1" y="-1" width="97" height="48" fill="#fff"/><g clip-path="url(#lc)"><path d="M-1 -1h97v48h-97z" fill="#0000ff" fill-rule="evenodd"/><path d="M-.9 47.2l97.7 0 0-49.1-98.1 0 0 49.1z" fill="#3838ff" fill-rule="evenodd"/><path d="M-.9 47.2l97.7 0 0-49.1-98.1 0 0 49.1zM35 12.7l-2.6-1.1-.5-1.1 .8-1.8 1.8-1.4 1.8-.5 1.4 .3 2.2 1.2 1.3 1.5 .1 1.1-1.1 1.1-2.8 .9z" fill="#7070ff" fill-rule="evenodd"/><path d="M-.9 47.2l97.7 0 0-15.1-8.6-.1-1.1-.2-.5-.7 .5-.6 1.1-.2 8.6-.1 0-32.1-89 0-1.6 .4-7.5 .1 0 48.6zM20.8 20.4l-.8-.7 0-.7 .9-.8 1.4 .1 .6 1-.3 .8-.6 .4zM34.9 13.8l-4.9-1.1-1.2-.7-.5-.7-.1-5.9 .6-1.6 1-1 2.5-.3 5.1 .3 8.2 4.4 .7 .8 0 1.1-.9 1.8-1.6 1.5-4.7 1.3z" fill="#aaaaff" fill-rule="evenodd"/><path d="M-.9 47.2l56.6 0 .1-12.1 .6-1.5 1.4-1 1.4-.2 6.4 .4 6.8-.5 6.8 .4 1.8-.6 2.5-2.3 2.2-1 2.5-.3 8.6 0 0-30.4-50.4 0 1.3 2.6 4 2.4 1.1 1.1 .5 1.9-.3 1.9-7.1 5.5-3.2 .9-5.3 .6-10.4-.9-1.5-.6-.3-3 .2-6.6 1.4-3.3 2.3-2.5-17.3 0-1.3 2-2.1 1.4-9.7 .2 0 45.5zM14.8 24.5l-7.8-4.1-.8-.7 0-1 8.6-4.6 8.2 .4 1.6 .4 1.3 2.6 .4 1.8-.6 2.2-1.3 1.9-1.4 .9-1.4 .4-5 .1z" fill="#e2e2ff" fill-rule="evenodd"/><path d="M-.9 47.2l53.2 0 .2-13.6 .6-1.5 1.8-2.5 .7-2.6 1.1-1 1.1-.2 1 .5 1.5 2.6 1 .9 4 1 7.1-1.1 6.5 .9 1.1-.3 2.5-1.7 2.8-.8 11.5-.3 0-29.4-46.8 0 1.2 1.1 3.3 1.5 1.5 1.8 .6 1.8 .1 2.6-.3 1.8-.7 1.1-1.2 .8-3.2 1.1-2.5 2.6-2.1 .9-7.6 .8-9.8 0-.7 .8-.1 4.4-1.2 3.6-2.1 2.2-2.9 1-6.1-.6-2.1-.6-11.7-6-1.5-1.1-.4-1.1 .9-1.1 1.9-1.3 10.4-5.2 2.2-.2 5 1.3 1.4-.2 .6-1.4 .2-6.9 1.2-5.5-10 0-1 3.3-1 1.1-1.4 .7-3.3 .7-8.9 .1 0 43.2z" fill="#fff" fill-rule="evenodd"/><path d="M-.9 47.2l4.6 0 .1-4.1 .7-1.4 3.1-2.1 6.5-2.9 3.1-2.3 .7-1.9-.2-1.1-1.1-1.1-17.9-8.9 0 25.8zM66 27.8l6.4-.4 6.5 .6 6.4-1.1 11.5-.4 0-21.7-10-.4-8.3 .4-4.3 .8-3.3 2-1.1 1.5-.3 4.4-.4 1.1-5.4 4-1.2 1.8 .1 2.2 1.2 3.3 1.1 1.5z" fill="#ffe2e2" fill-rule="evenodd"/><path d="M-.9 40.1l11.7-4.3 1.6-1.1 .6-1.4-.7-1.9-1.6-1.4-12-6.1 0 16.3zM76.7 25.6l3.6 .2 8.1-.2 4.8-.7 3.6-1 0-17.6-9.3-.7-5.4 .3-4.6 .7-2.6 1.4-1 1.8-.7 5.6-1.1 1-3.6 1.8-.9 1.1-.1 1.1 1 2.2 1.8 1.4 2.5 .9z" fill="#ffaaaa" fill-rule="evenodd"/><path d="M-.9 36.3l8.2-1.7 1.1-.6 .1-.7-1.1-1.1-8.7-4.6 0 8.8zM80.3 23.7l5.4 .1 2.5-.3 8.6-3.5 0-11.8-10.4-1.3-6 .7-2.6 1.2-1.5 2.5-.4 4-.4 1.5-.9 .9-2.2 1.3-.5 1.1 .9 .9 3.5 1.6z" fill="#ff7070" fill-rule="evenodd"/><path d="M85 20.5l1.4 .3 1.1-.2 5-2.7 4.3-.9 0-6.3-10-2.4-3.5 .8-3.5 1.4-.9 1.1-.3 1.1 0 2.2 .4 1.5 1 1z" fill="#ff3838" fill-rule="evenodd"/></g><use href="#grid"/><use href="#coast" fill="none" stroke="#000" stroke-width="0.65" stroke-linejoin="round"/></g><rect x="0" y="0" width="95.0" height="45.8" fill="none" stroke="#8a8a8a" stroke-width="0.8"/><text x="8" y="51.4" font-size="4.5" textLength="11.5" lengthAdjust="spacingAndGlyphs" text-anchor="middle" style="fill:#111">80°W</text><text x="36.6" y="51.4" font-size="4.5" textLength="11.5" lengthAdjust="spacingAndGlyphs" text-anchor="middle" style="fill:#111">40°W</text><text x="65.3" y="51.4" font-size="4.5" textLength="4.7" lengthAdjust="spacingAndGlyphs" text-anchor="middle" style="fill:#111">0°</text><text x="93.9" y="51.4" font-size="4.5" textLength="10" lengthAdjust="spacingAndGlyphs" text-anchor="middle" style="fill:#111">40°E</text><text x="97.2" y="2.5" font-size="4.5" textLength="10.5" lengthAdjust="spacingAndGlyphs" style="fill:#111">80°N</text><text x="97.2" y="24.5" font-size="4.5" textLength="10.5" lengthAdjust="spacingAndGlyphs" style="fill:#111">50°N</text><text x="97.2" y="46.5" font-size="4.5" textLength="10.5" lengthAdjust="spacingAndGlyphs" style="fill:#111">20°N</text></g>
<text x="20.1" y="221.8" font-size="10.3" textLength="10.4" lengthAdjust="spacingAndGlyphs">(i)</text>
<g transform="translate(28.7 281.3)"><rect x="0" y="0" width="7.9" height="4.3" fill="#0000ff"/><rect x="7.8" y="0" width="7.9" height="4.3" fill="#3838ff"/><rect x="15.5" y="0" width="7.9" height="4.3" fill="#7070ff"/><rect x="23.3" y="0" width="7.9" height="4.3" fill="#aaaaff"/><rect x="31" y="0" width="7.9" height="4.3" fill="#e2e2ff"/><rect x="38.8" y="0" width="7.9" height="4.3" fill="#ffe2e2"/><rect x="46.6" y="0" width="7.9" height="4.3" fill="#ffaaaa"/><rect x="54.3" y="0" width="7.9" height="4.3" fill="#ff7070"/><rect x="62.1" y="0" width="7.9" height="4.3" fill="#ff3838"/><rect x="69.8" y="0" width="7.9" height="4.3" fill="#ff0000"/><rect x="0" y="0" width="77.6" height="4.3" fill="none" stroke="#666" stroke-width="0.4"/><path d="M7.8 4.3v1.3" stroke="#333" stroke-width="0.4"/><text x="7.8" y="11.9" font-size="5.4" text-anchor="middle">−2</text><path d="M23.3 4.3v1.3" stroke="#333" stroke-width="0.4"/><text x="23.3" y="11.9" font-size="5.4" text-anchor="middle">−1</text><path d="M38.8 4.3v1.3" stroke="#333" stroke-width="0.4"/><text x="38.8" y="11.9" font-size="5.4" text-anchor="middle">0</text><path d="M54.3 4.3v1.3" stroke="#333" stroke-width="0.4"/><text x="54.3" y="11.9" font-size="5.4" text-anchor="middle">1</text><path d="M69.8 4.3v1.3" stroke="#333" stroke-width="0.4"/><text x="69.8" y="11.9" font-size="5.4" text-anchor="middle">2</text><text x="38.8" y="21.1" font-size="8.8" textLength="9.2" lengthAdjust="spacingAndGlyphs" text-anchor="middle">°C</text></g>
<g transform="translate(131 227.2)"><g clip-path="url(#cp)"><rect x="-1" y="-1" width="97" height="48" fill="#fff"/><g clip-path="url(#lc)"><path d="M-1 -1h97v48h-97z" fill="#0000ff" fill-rule="evenodd"/><path d="M-.9 47.2l97.7 0 0-49.1-98.1 0 0 49.1z" fill="#3838ff" fill-rule="evenodd"/><path d="M-.9 47.2l97.7 0 0-49.1-98.1 0 0 49.1z" fill="#7070ff" fill-rule="evenodd"/><path d="M-.9 47.2l97.7 0 0-49.1-98.1 0 0 49.1zM34.8 8.3l-5.3-2.3-.8-1.3 .7-1.5 1.5-.7 5 .1 2.1 1 1.7 1.4 .3 1.9-1 1.1-2 .6z" fill="#aaaaff" fill-rule="evenodd"/><path d="M-.9 47.2l64.6 0-.6-1.8-.8-1.2-1.3-.9-4.2-1.6-.7-.8-.3-1.1 .3-1.8 1.3-1.1 1.7-.3 3.3-.1 9 0 2.5 .8 1.1 1.4 .8 2.6 .2 5.9 20.8 0 0-49.1-60.2 0 3.4 2.9 5.2 3.2 .7 .8 .2 1.5-.5 1.8-1.4 1-2.9 .7-4.7 .5-7.3-1.1-1.6-.8-1.4-1.5-.8-2.1 .3-2.2 1.2-2.4 2.1-2.3-30.4 0 0 49.1zM15 19.7l-.3-.4 .5-.4 .8 .1 .3 .3-.4 .4z" fill="#e2e2ff" fill-rule="evenodd"/><path d="M-.9 47.2l62.3 0-.8-1.3-1.4-1.1-4.3-1.2-1.5-.8-.8-1.5-.2-2.6 .7-2.1 1.8-1.3 2.9-.7 4.6-.1 10 .1 2.5 .4 1.8 .8 2.5 3.2 2.9 2.7 .3 1.4 .1 4.1 14.3 0 0-49.1-56.8 0 2.7 2.3 4.3 1.5 1.5 .9 1 2.2-.1 3.3-.9 1.6-2.2 1.1-3.2 .6-6.5 .3-8.2-.6-2.5-.7-1.4-1.1-1-1.9-.4-2.9 1.2-6.6-25.6 0 0 49.1zM13.8 21.9l-2.4-1.1-1.3-1.5 .4-1.4 2.2-1.2 2.8-.4 3.2 .4 3.3 .9 1.8 1.4 0 .7-.4 .5-2.9 1.3-3.9 .7z" fill="#fff" fill-rule="evenodd"/><path d="M54.2 47.2l.3 0 4.9 0-.9-.9-1.5-.3-2 .4-1.1 .8zM-1 37.3l6.9-1 6.8-2.8 4.8-3.2 .5-1.4-.3-1.9-2.2-1.8-8.9-4.3-2.9-.7-5-.5 0 17.6zM71 27.8l2.2 .2 6-1.3 10.4-.9 2.9-.6 4.3-1.6 0-14.8-9.7-1.9-2.5 .4-2.5 1.1-1.7 2.1-.6 3.7-.6 1.1-5 1.3-5.7 2.5-2.8 1.7-2 1.8 .3 1.1 2.2 1.9zM43.8 -1.1l1.8 0 1.8-.8-4.8 0z" fill="#ffe2e2" fill-rule="evenodd"/><path d="M-.9 35.5l3.5-1 7.5-3.4 .8-.8 .5-1.1 0-1.4-.5-1.1-1.5-1.2-6.3-2.9-4.4-1.1 0 14zM71.7 25.6l2.2 .1 9.3-.9 13.6-2.6 0-12-9.3-1.3-2.2 .2-1.8 .8-1.5 1.7-.5 3.3-1 1.5-10.6 4.6-1.7 1.3-.2 1.1 .5 .7z" fill="#ffaaaa" fill-rule="evenodd"/><path d="M73.9 23.4l5.7 0 9.7-1.7 7.5-.8 0-9-8.6-1.5-1.4 0-1.5 .5-1.3 1.5-.5 2.9-.7 1.5-6.8 4.5-2.9 1.3-.1 .4z" fill="#ff7070" fill-rule="evenodd"/><path d="M85.7 19.7l2.1 .3 9-.5 0-5.1-3.2-.6-5-1.6-1.8 .1-.8 .9-.4 3.2-.8 2.2 .2 .7z" fill="#ff3838" fill-rule="evenodd"/></g><use href="#grid"/><use href="#coast" fill="none" stroke="#000" stroke-width="0.65" stroke-linejoin="round"/></g><rect x="0" y="0" width="95.0" height="45.8" fill="none" stroke="#8a8a8a" stroke-width="0.8"/><text x="8" y="51.4" font-size="4.5" textLength="11.5" lengthAdjust="spacingAndGlyphs" text-anchor="middle" style="fill:#111">80°W</text><text x="36.6" y="51.4" font-size="4.5" textLength="11.5" lengthAdjust="spacingAndGlyphs" text-anchor="middle" style="fill:#111">40°W</text><text x="65.3" y="51.4" font-size="4.5" textLength="4.7" lengthAdjust="spacingAndGlyphs" text-anchor="middle" style="fill:#111">0°</text><text x="93.9" y="51.4" font-size="4.5" textLength="10" lengthAdjust="spacingAndGlyphs" text-anchor="middle" style="fill:#111">40°E</text><text x="97.2" y="2.5" font-size="4.5" textLength="10.5" lengthAdjust="spacingAndGlyphs" style="fill:#111">80°N</text><text x="97.2" y="24.5" font-size="4.5" textLength="10.5" lengthAdjust="spacingAndGlyphs" style="fill:#111">50°N</text><text x="97.2" y="46.5" font-size="4.5" textLength="10.5" lengthAdjust="spacingAndGlyphs" style="fill:#111">20°N</text></g>
<text x="131.1" y="221.8" font-size="10.3" textLength="10.4" lengthAdjust="spacingAndGlyphs">(j)</text>
<g transform="translate(139.7 281.3)"><rect x="0" y="0" width="7.9" height="4.3" fill="#0000ff"/><rect x="7.8" y="0" width="7.9" height="4.3" fill="#3838ff"/><rect x="15.5" y="0" width="7.9" height="4.3" fill="#7070ff"/><rect x="23.3" y="0" width="7.9" height="4.3" fill="#aaaaff"/><rect x="31" y="0" width="7.9" height="4.3" fill="#e2e2ff"/><rect x="38.8" y="0" width="7.9" height="4.3" fill="#ffe2e2"/><rect x="46.6" y="0" width="7.9" height="4.3" fill="#ffaaaa"/><rect x="54.3" y="0" width="7.9" height="4.3" fill="#ff7070"/><rect x="62.1" y="0" width="7.9" height="4.3" fill="#ff3838"/><rect x="69.8" y="0" width="7.9" height="4.3" fill="#ff0000"/><rect x="0" y="0" width="77.6" height="4.3" fill="none" stroke="#666" stroke-width="0.4"/><path d="M7.8 4.3v1.3" stroke="#333" stroke-width="0.4"/><text x="7.8" y="11.9" font-size="5.4" text-anchor="middle">−2</text><path d="M23.3 4.3v1.3" stroke="#333" stroke-width="0.4"/><text x="23.3" y="11.9" font-size="5.4" text-anchor="middle">−1</text><path d="M38.8 4.3v1.3" stroke="#333" stroke-width="0.4"/><text x="38.8" y="11.9" font-size="5.4" text-anchor="middle">0</text><path d="M54.3 4.3v1.3" stroke="#333" stroke-width="0.4"/><text x="54.3" y="11.9" font-size="5.4" text-anchor="middle">1</text><path d="M69.8 4.3v1.3" stroke="#333" stroke-width="0.4"/><text x="69.8" y="11.9" font-size="5.4" text-anchor="middle">2</text><text x="38.8" y="21.1" font-size="8.8" textLength="9.2" lengthAdjust="spacingAndGlyphs" text-anchor="middle">°C</text></g>
<g transform="translate(276.4 227.2)"><g clip-path="url(#cp)"><path d="M-1 -1h97v48h-97z" fill="#543005" fill-rule="evenodd"/><path d="M-.9 47.2l97.7 0 0-49.1-98.1 0 0 49.1z" fill="#91560d" fill-rule="evenodd"/><path d="M-.9 47.2l97.7 0 0-49.1-98.1 0 0 49.1zM56.8 32.5l-3-1.7-.5-.8 0-1.1 .7-1.1 1.2-.8 2.2-.5 1.5 .2 1.8 1.4 .4 1.9-.6 1.1-1.3 1-1.1 .5z" fill="#c58e3d" fill-rule="evenodd"/><path d="M-.9 47.2l97.7 0 0-49.1-98.1 0 0 49.1zM55.8 34.4l-3-1.1-4.3-2.3-1-1.8 .4-1.8 .9-.7 2-.8 6.2-.9 3.3 .3 2.6 1.4 .8 1.1 .2 1.1-.2 1.1-.8 1.1-4.1 3.2-1.4 .3z" fill="#e7cf94" fill-rule="evenodd"/><path d="M-.9 47.2l97.7 0 0-49.1-98.1 0 0 49.1zM14.6 39.1l-1-.4-.8-.7 .3-1.1 2.1-.8 2.1 .8 .3 .7-.3 .8-1.4 .7zM55.1 36.6l-4.5-.7-5.7-.1-2.2-.4-4.1-2.5-3.6-1.5-.7-.7 0-.7 .9-.9 3.6-1.4 5.7-3 12.2-1.2 3.9 .2 6.1 1.1 19.7 .1 2.5 .8 1.3 1.7-.2 2.2-1.8 1.1-2.9 .4-18.9 .1-2.2 .9-5 4.1-1.8 .5z" fill="#f6eed9" fill-rule="evenodd"/><path d="M34.1 46.8l.1 .4 20.3 0-.1-5.2-.6-1.1-1-.7-2.9-.7-19.3 0-2 .3-1.2 .8-.4 .7 .4 .7 4.9 2.4 1.1 1zM64.6 42.9l12.9 .2 3.1-.3 4.2-2.6 4.4-1.8 1-1.5 0-1.8-1.3-1.3-2.5-.5-20.4 .1-1.8 1.3-2.4 4.4 .4 2.2 .9 .9zM-1.1 36.2l3.7-1 3.3-2.2 4-1.6 4.2-2.5 8.6-.6 1.5-.5 2.8-1.9 1.8-.8 7.5-.4 7.1-2.4 8.3-.3 7.9-.9 37.2 .1 0-23.1-64.8 0 .7 1.6 1.1 1.3 4.5 2.2 1.3 1.1 .6 1.8-.5 2.2-1.2 1.1-1.5 .6-8.6 .5-4.1 2.6-3.8 1.5-.9 1.1 .6 2.9-.4 1.6-1.4 1.1-2.9 .8-2.1-.3-1.8-.7-1.2-1-.3-1.5 2.2-6.9 1.4-1 3.3-1.3 1.4-1.3 .3-2.3-.9-1.9-1.6-1-1.8-.4-15.7 0 0 33.7z" fill="#dbefec" fill-rule="evenodd"/><path d="M35.9 20.8l7.5-.7 7.6-.1 6-2.2 1.8-.3 20.8-.1 1.9-.6 3.3-2.2 3.6-1.5 .8-1.1-.8-1.1-3.6-1.5-3.1-2.1-1.7-.6-14.7-.1-2.5 .8-11.1 6.2-14 .3-2.9 .6-1.4 1.5-.2 2.2 .6 1.5z" fill="#98d7cd" fill-rule="evenodd"/><path d="M69.9 14.6l3.3 0 2.5-.6 1.4-1.3 0-1.4-.7-.9-1.3-.6-3.7-.5-5.7 .9-1.5 .7-1.1 1.1 .2 .7 1.3 .8z" fill="#44a299" fill-rule="evenodd"/><use href="#grid"/><use href="#coast" fill="none" stroke="#000" stroke-width="0.65" stroke-linejoin="round"/></g><rect x="0" y="0" width="95.0" height="45.8" fill="none" stroke="#8a8a8a" stroke-width="0.8"/><text x="8" y="51.4" font-size="4.5" textLength="11.5" lengthAdjust="spacingAndGlyphs" text-anchor="middle" style="fill:#111">80°W</text><text x="36.6" y="51.4" font-size="4.5" textLength="11.5" lengthAdjust="spacingAndGlyphs" text-anchor="middle" style="fill:#111">40°W</text><text x="65.3" y="51.4" font-size="4.5" textLength="4.7" lengthAdjust="spacingAndGlyphs" text-anchor="middle" style="fill:#111">0°</text><text x="93.9" y="51.4" font-size="4.5" textLength="10" lengthAdjust="spacingAndGlyphs" text-anchor="middle" style="fill:#111">40°E</text><text x="97.2" y="2.5" font-size="4.5" textLength="10.5" lengthAdjust="spacingAndGlyphs" style="fill:#111">80°N</text><text x="97.2" y="24.5" font-size="4.5" textLength="10.5" lengthAdjust="spacingAndGlyphs" style="fill:#111">50°N</text><text x="97.2" y="46.5" font-size="4.5" textLength="10.5" lengthAdjust="spacingAndGlyphs" style="fill:#111">20°N</text></g>
<text x="276.5" y="221.8" font-size="10.3" textLength="13.9" lengthAdjust="spacingAndGlyphs">(k)</text>
<g transform="translate(285.1 281.3)"><rect x="0" y="0" width="7.9" height="4.3" fill="#543005"/><rect x="7.8" y="0" width="7.9" height="4.3" fill="#91560d"/><rect x="15.5" y="0" width="7.9" height="4.3" fill="#c58e3d"/><rect x="23.3" y="0" width="7.9" height="4.3" fill="#e7cf94"/><rect x="31" y="0" width="7.9" height="4.3" fill="#f6eed9"/><rect x="38.8" y="0" width="7.9" height="4.3" fill="#dbefec"/><rect x="46.6" y="0" width="7.9" height="4.3" fill="#98d7cd"/><rect x="54.3" y="0" width="7.9" height="4.3" fill="#44a299"/><rect x="62.1" y="0" width="7.9" height="4.3" fill="#066b63"/><rect x="69.8" y="0" width="7.9" height="4.3" fill="#003c30"/><rect x="0" y="0" width="77.6" height="4.3" fill="none" stroke="#666" stroke-width="0.4"/><path d="M7.8 4.3v1.3" stroke="#333" stroke-width="0.4"/><text x="7.8" y="11.9" font-size="5.4" text-anchor="middle">−1.2</text><path d="M23.3 4.3v1.3" stroke="#333" stroke-width="0.4"/><text x="23.3" y="11.9" font-size="5.4" text-anchor="middle">−0.6</text><path d="M38.8 4.3v1.3" stroke="#333" stroke-width="0.4"/><text x="38.8" y="11.9" font-size="5.4" text-anchor="middle">0.0</text><path d="M54.3 4.3v1.3" stroke="#333" stroke-width="0.4"/><text x="54.3" y="11.9" font-size="5.4" text-anchor="middle">0.6</text><path d="M69.8 4.3v1.3" stroke="#333" stroke-width="0.4"/><text x="69.8" y="11.9" font-size="5.4" text-anchor="middle">1.2</text><text x="38.8" y="21.1" font-size="8.8" text-anchor="middle">mm d<tspan font-size="6.2" dy="-3.4">−1</tspan></text></g>
<g transform="translate(387.5 227.2)"><g clip-path="url(#cp)"><path d="M-1 -1h97v48h-97z" fill="#543005" fill-rule="evenodd"/><path d="M-.9 47.2l97.7 0 0-49.1-98.1 0 0 49.1z" fill="#91560d" fill-rule="evenodd"/><path d="M-.9 47.2l97.7 0 0-49.1-98.1 0 0 49.1z" fill="#c58e3d" fill-rule="evenodd"/><path d="M-.9 47.2l97.7 0 0-49.1-98.1 0 0 49.1zM55.8 31.8l-1.6-.6-.7-.9 .3-1.1 .8-.7 1.7-.6 1.8-.1 1.5 .5 .9 .9 .2 1.1-1.1 1.1-1.8 .5z" fill="#e7cf94" fill-rule="evenodd"/><path d="M-.9 47.2l97.7 0 0-49.1-98.1 0 0 49.1zM28.7 35.5l-1.3-.8-.4-.7 1-1.2 1.8-.5 5.8-.1 2.1-.4 13.6-6.8 5.7-.2 2.6 .5 2.8 1.7 1.3 2.2-.6 1.8-1.8 1.3-10 3.3-20 .2zM72 28.1l-1.7-.8-.3-.6 .3-.8 2.1-.7 2.1 .7 .4 .8-.4 .7-1 .6z" fill="#f6eed9" fill-rule="evenodd"/><path d="M33.4 47.2l49.8 0 0-4.4 .5-1.5 1.2-1.1 3.3-1.2 1.4-1 .6-1.4 0-1.9-1.3-1.6-2.5-.9-20.4 .1-3.4 2.1-.6 .7-1 2.9-2.2 1.2-2.5 .3-18.6 0-2.5 .5-1.4 .9-.6 1.1-.1 5.2zM-1.1 32.5l3.4-.8 3.8-2.5 2.3-.6 27.9-.3 10.7-5.2 3.4-.8 8.8-.2 7.5-.9 30.1 0 0-23.1-56.6 0 0 8.8-.3 1.1-.8 1-2.5 1-6.8 .2-2.2 .7-3.3 2.2-4.4 1.8-.9 1.1-.7 3.3-1.3 1.1-1.5 .5-1.8-.3-1.4-.9-.6-1.1-.4-2.6-1.2-1.3-4-1.6-3.8-2.4-3.6-.9 0 22.7z" fill="#dbefec" fill-rule="evenodd"/><path d="M51.7 20.1l6.1-.1 6.8-1.4 7.5-.2 2.8-.5 1.7-.8 .9-1.1 .7-2.2 0-2.2-1-1.4-1.5-.9-2.5-.5-2.6 0-6 1.3-6.8 .3-1.8 .6-4 2.5-8.2 .5-1.6 .6-.8 .7 .3 1.1 1 .7 6.1 2.5z" fill="#98d7cd" fill-rule="evenodd"/><path d="M68.1 16.4l3.8 0 1.9-.7 1.6-2.2 .1-1.1-.4-.8-1.9-1.1-2.9 .2-2.2 .9-4.6 3.3 .2 .8 .8 .3z" fill="#44a299" fill-rule="evenodd"/><use href="#grid"/><use href="#coast" fill="none" stroke="#000" stroke-width="0.65" stroke-linejoin="round"/></g><rect x="0" y="0" width="95.0" height="45.8" fill="none" stroke="#8a8a8a" stroke-width="0.8"/><text x="8" y="51.4" font-size="4.5" textLength="11.5" lengthAdjust="spacingAndGlyphs" text-anchor="middle" style="fill:#111">80°W</text><text x="36.6" y="51.4" font-size="4.5" textLength="11.5" lengthAdjust="spacingAndGlyphs" text-anchor="middle" style="fill:#111">40°W</text><text x="65.3" y="51.4" font-size="4.5" textLength="4.7" lengthAdjust="spacingAndGlyphs" text-anchor="middle" style="fill:#111">0°</text><text x="93.9" y="51.4" font-size="4.5" textLength="10" lengthAdjust="spacingAndGlyphs" text-anchor="middle" style="fill:#111">40°E</text><text x="97.2" y="2.5" font-size="4.5" textLength="10.5" lengthAdjust="spacingAndGlyphs" style="fill:#111">80°N</text><text x="97.2" y="24.5" font-size="4.5" textLength="10.5" lengthAdjust="spacingAndGlyphs" style="fill:#111">50°N</text><text x="97.2" y="46.5" font-size="4.5" textLength="10.5" lengthAdjust="spacingAndGlyphs" style="fill:#111">20°N</text></g>
<text x="387.6" y="221.8" font-size="10.3" textLength="10.4" lengthAdjust="spacingAndGlyphs">(l)</text>
<g transform="translate(396.2 281.3)"><rect x="0" y="0" width="7.9" height="4.3" fill="#543005"/><rect x="7.8" y="0" width="7.9" height="4.3" fill="#91560d"/><rect x="15.5" y="0" width="7.9" height="4.3" fill="#c58e3d"/><rect x="23.3" y="0" width="7.9" height="4.3" fill="#e7cf94"/><rect x="31" y="0" width="7.9" height="4.3" fill="#f6eed9"/><rect x="38.8" y="0" width="7.9" height="4.3" fill="#dbefec"/><rect x="46.6" y="0" width="7.9" height="4.3" fill="#98d7cd"/><rect x="54.3" y="0" width="7.9" height="4.3" fill="#44a299"/><rect x="62.1" y="0" width="7.9" height="4.3" fill="#066b63"/><rect x="69.8" y="0" width="7.9" height="4.3" fill="#003c30"/><rect x="0" y="0" width="77.6" height="4.3" fill="none" stroke="#666" stroke-width="0.4"/><path d="M7.8 4.3v1.3" stroke="#333" stroke-width="0.4"/><text x="7.8" y="11.9" font-size="5.4" text-anchor="middle">−1.2</text><path d="M23.3 4.3v1.3" stroke="#333" stroke-width="0.4"/><text x="23.3" y="11.9" font-size="5.4" text-anchor="middle">−0.6</text><path d="M38.8 4.3v1.3" stroke="#333" stroke-width="0.4"/><text x="38.8" y="11.9" font-size="5.4" text-anchor="middle">0.0</text><path d="M54.3 4.3v1.3" stroke="#333" stroke-width="0.4"/><text x="54.3" y="11.9" font-size="5.4" text-anchor="middle">0.6</text><path d="M69.8 4.3v1.3" stroke="#333" stroke-width="0.4"/><text x="69.8" y="11.9" font-size="5.4" text-anchor="middle">1.2</text><text x="38.8" y="21.1" font-size="8.8" text-anchor="middle">mm d<tspan font-size="6.2" dy="-3.4">−1</tspan></text></g>
</svg></body></html>
